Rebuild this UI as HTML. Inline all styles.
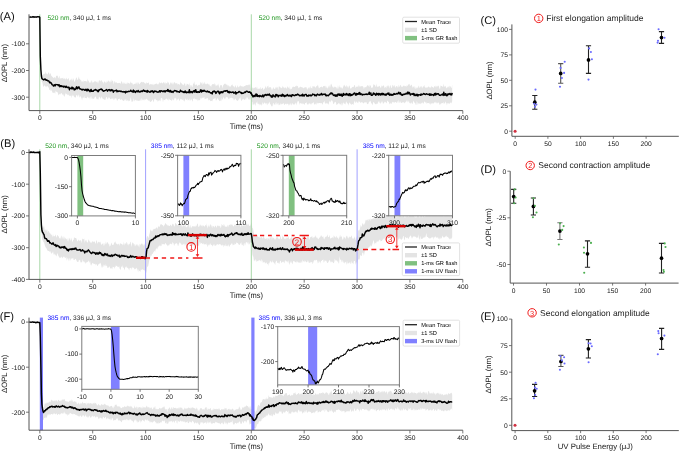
<!DOCTYPE html>
<html><head><meta charset="utf-8"><title>Figure</title>
<style>
html,body{margin:0;padding:0;background:#fff;}
svg{display:block;will-change:transform;}
text{font-family:"Liberation Sans", sans-serif;text-rendering:geometricPrecision;}
</style></head>
<body>
<svg width="685" height="457" viewBox="0 0 685 457">
<rect width="685" height="457" fill="#fff"/>
<path d="M29.2,16.2L29.8,15.6 30.3,16.1 30.8,17.5 31.3,16.8 31.9,16.4 32.4,17.3 32.9,16 33.5,18.8 34,18.1 34.5,15.7 35,16.8 35.6,17 36.1,16.4 36.6,15.9 37.2,17 37.7,15.6 38.2,16.5 38.7,17.2 39.3,17.4 39.8,16.6 40.3,56.8 40.9,68.4 41.4,72.6 41.9,75.5 42.4,75.4 43,73.6 43.5,74.4 44,74.3 44.6,73.5 45.1,74.3 45.6,71.3 46.1,74.4 46.7,73.1 47.2,74.5 47.7,74.2 48.3,72.1 48.8,73.1 49.3,73.5 49.8,75 50.4,72.7 50.9,74.6 51.4,75.9 52,76.3 52.5,77.2 53,77.1 53.5,78.2 54.1,77.5 54.6,76.8 55.1,78.6 55.7,77.4 56.2,75.5 56.7,76.1 57.2,75.4 57.8,75.9 58.3,78.5 58.8,77.4 59.4,75.6 59.9,79.3 60.4,77.9 61,78.8 61.5,78.1 62,78.2 62.5,78.3 63.1,77.6 63.6,79.3 64.1,78.4 64.7,78.6 65.2,78.6 65.7,80 66.2,77.6 66.8,79.1 67.3,79.3 67.8,79.5 68.4,77.7 68.9,79.1 69.4,81.9 69.9,80.1 70.5,79.3 71,80.8 71.5,79.1 72.1,78.3 72.6,81.1 73.1,79.7 73.6,78 74.2,82.1 74.7,81.4 75.2,80.6 75.8,78.8 76.3,77.3 76.8,78.1 77.3,80.1 77.9,79.6 78.4,77.9 78.9,76.2 79.5,79.3 80,79 80.5,80.3 81,79.8 81.6,81.6 82.1,82.1 82.6,80.7 83.2,82.4 83.7,80 84.2,81.3 84.7,80.9 85.3,81.3 85.8,80.7 86.3,81.4 86.9,81.5 87.4,78.2 87.9,82.2 88.4,80.1 89,81.7 89.5,82.8 90,82.8 90.6,82.4 91.1,80.4 91.6,80.6 92.1,83.6 92.7,81.6 93.2,82.3 93.7,82.5 94.3,81.2 94.8,81.5 95.3,81.7 95.8,80.7 96.4,82.6 96.9,81.3 97.4,81.8 98,83.8 98.5,82 99,80.6 99.5,79.9 100.1,81.7 100.6,80.6 101.1,80.7 101.7,79.7 102.2,82 102.7,81.3 103.2,84 103.8,82 104.3,81.5 104.8,81.4 105.4,82.1 105.9,83.4 106.4,82.4 107,80.5 107.5,82 108,81.8 108.5,80.3 109.1,81.1 109.6,81.7 110.1,82.8 110.7,81.1 111.2,79.2 111.7,82.2 112.2,80.7 112.8,80.6 113.3,82.1 113.8,84.6 114.4,81.5 114.9,81.1 115.4,83 115.9,82.3 116.5,82.3 117,83.2 117.5,83.2 118.1,82.8 118.6,83.2 119.1,83 119.6,82.8 120.2,83.3 120.7,84 121.2,81.1 121.8,81.8 122.3,82.6 122.8,84 123.3,83.8 123.9,81.9 124.4,83.1 124.9,84 125.5,84 126,82.3 126.5,83.7 127,84.6 127.6,82.3 128.1,82.9 128.6,82.8 129.2,84 129.7,83.3 130.2,83 130.7,81.3 131.3,83.4 131.8,82.4 132.3,83.1 132.9,84.8 133.4,84.2 133.9,84.6 134.4,83.8 135,83.7 135.5,84.1 136,82 136.6,83.3 137.1,85.1 137.6,82.4 138.1,82.1 138.7,83.5 139.2,83.7 139.7,84.5 140.3,82.4 140.8,82.8 141.3,81.7 141.8,82.1 142.4,82.5 142.9,81.7 143.4,82 144,82.6 144.5,82.7 145,83.5 145.6,83.5 146.1,83.8 146.6,82 147.1,83.3 147.7,83.1 148.2,82.9 148.7,82.1 149.3,84.9 149.8,84.5 150.3,83.7 150.8,84.4 151.4,84 151.9,84.8 152.4,84.8 153,83.5 153.5,84.7 154,85.4 154.5,84 155.1,84 155.6,84 156.1,83.3 156.7,83.8 157.2,84.8 157.7,83.9 158.2,83.3 158.8,84.7 159.3,82.5 159.8,82.2 160.4,83.3 160.9,83.3 161.4,82.4 161.9,82.4 162.5,83.6 163,83.3 163.5,82.1 164.1,82.6 164.6,82.7 165.1,84.7 165.6,82.3 166.2,83.1 166.7,83.5 167.2,83.4 167.8,81.3 168.3,82.8 168.8,82.4 169.3,84.4 169.9,85.1 170.4,82 170.9,83 171.5,83.7 172,81.8 172.5,83.4 173,85 173.6,83 174.1,82.1 174.6,82.2 175.2,84.1 175.7,82.7 176.2,83.3 176.7,82.9 177.3,85.1 177.8,83.1 178.3,84.3 178.9,83.9 179.4,85.1 179.9,84.2 180.4,81.5 181,83.3 181.5,83.2 182,83.7 182.6,84.7 183.1,84.4 183.6,85.4 184.1,83.7 184.7,83.2 185.2,83.7 185.7,86.4 186.3,85.6 186.8,83.6 187.3,84.2 187.9,83.8 188.4,84.5 188.9,85 189.4,82.6 190,87.8 190.5,85.2 191,84.7 191.6,85.8 192.1,87.4 192.6,86.4 193.1,83.8 193.7,83.6 194.2,81.2 194.7,84.2 195.3,85.6 195.8,84.6 196.3,84.6 196.8,84.4 197.4,86 197.9,85.8 198.4,84.9 199,84.7 199.5,85.3 200,84.3 200.5,82.1 201.1,82.5 201.6,84.1 202.1,81.5 202.7,85.1 203.2,84 203.7,83.3 204.2,81.5 204.8,83.8 205.3,83.6 205.8,84.6 206.4,83.6 206.9,84.7 207.4,83.1 207.9,84 208.5,84.8 209,83.6 209.5,84.9 210.1,86.3 210.6,85.5 211.1,87.3 211.6,84.9 212.2,84.6 212.7,84 213.2,83.9 213.8,84.5 214.3,83 214.8,84.9 215.3,84.1 215.9,86.5 216.4,85.7 216.9,85 217.5,84.5 218,86.2 218.5,83.3 219,86.8 219.6,88.4 220.1,84.5 220.6,85.7 221.2,85 221.7,85.3 222.2,86.2 222.7,88.6 223.3,84.5 223.8,84.9 224.3,83.6 224.9,84.3 225.4,84.2 225.9,83.2 226.4,84.9 227,84.4 227.5,84.9 228,86.7 228.6,85 229.1,85.8 229.6,86.8 230.2,86.6 230.7,86.8 231.2,85.5 231.7,84.9 232.3,84.3 232.8,85.8 233.3,86.1 233.9,86.7 234.4,87.8 234.9,86.3 235.4,85.1 236,87.1 236.5,87.6 237,87.8 237.6,84.9 238.1,86.6 238.6,87.4 239.1,86.8 239.7,86.3 240.2,85.1 240.7,86.2 241.3,86.3 241.8,86.2 242.3,86.6 242.8,86.5 243.4,87 243.9,86.1 244.4,86 245,86.3 245.5,85.5 246,85.2 246.5,85 247.1,85.2 247.6,85.1 248.1,85.5 248.7,84.3 249.2,85.4 249.7,84.3 250.2,83.9 250.8,88.6 251.3,87.4 251.8,90.1 252.4,87 252.9,88.2 253.4,88.4 253.9,87.6 254.5,88.1 255,87.5 255.5,87.5 256.1,86.4 256.6,89.1 257.1,86.5 257.6,89.3 258.2,89.2 258.7,88.3 259.2,89.2 259.8,88.2 260.3,86.7 260.8,89.3 261.3,88.9 261.9,88.5 262.4,88.1 262.9,87.5 263.5,90.4 264,89.1 264.5,88.8 265,88 265.6,85.6 266.1,88.4 266.6,87.7 267.2,85.7 267.7,87.1 268.2,85.3 268.7,88.3 269.3,87.1 269.8,87.4 270.3,86.9 270.9,87.6 271.4,90.5 271.9,87.5 272.5,90.4 273,87.5 273.5,87.3 274,88.9 274.6,88.7 275.1,89.1 275.6,87.6 276.2,86.5 276.7,88.6 277.2,86.6 277.7,88 278.3,90.3 278.8,86.2 279.3,86.8 279.9,86.4 280.4,88.1 280.9,86.9 281.4,88.3 282,88.1 282.5,85.4 283,88.1 283.6,86.5 284.1,88.6 284.6,87.7 285.1,87 285.7,87.8 286.2,88.7 286.7,88.3 287.3,85.9 287.8,87.6 288.3,87.2 288.8,87.9 289.4,88.9 289.9,86 290.4,89.8 291,88.8 291.5,89.1 292,88.2 292.5,86.8 293.1,87.1 293.6,86.6 294.1,87.1 294.7,86.9 295.2,86.2 295.7,86.6 296.2,85.3 296.8,86.4 297.3,86.2 297.8,85.7 298.4,88.4 298.9,87.4 299.4,87.5 299.9,87.3 300.5,86.6 301,86.9 301.5,86.9 302.1,87.8 302.6,87 303.1,88.5 303.6,87.9 304.2,87.3 304.7,87.8 305.2,87.4 305.8,86.9 306.3,86.9 306.8,88.5 307.3,90 307.9,87.9 308.4,88.4 308.9,87.1 309.5,87.4 310,89.3 310.5,85.5 311,88 311.6,87.7 312.1,88.9 312.6,86 313.2,86.2 313.7,86.7 314.2,86.1 314.8,86.9 315.3,87.6 315.8,87.6 316.3,86.3 316.9,85.9 317.4,85.7 317.9,84.5 318.5,87.1 319,88.4 319.5,87.8 320,87.5 320.6,87 321.1,86.9 321.6,86.2 322.2,87.5 322.7,87.2 323.2,86.2 323.7,86 324.3,85.7 324.8,86.5 325.3,85.5 325.9,87.9 326.4,87.7 326.9,86 327.4,88.7 328,87.7 328.5,85.2 329,88.6 329.6,84.8 330.1,87.7 330.6,84.9 331.1,83.6 331.7,84.7 332.2,86.2 332.7,87 333.3,88.2 333.8,86.5 334.3,87.6 334.8,86.3 335.4,87.4 335.9,86.4 336.4,87.4 337,88.9 337.5,88.3 338,85 338.5,89.5 339.1,84.8 339.6,87.5 340.1,86.5 340.7,88 341.2,86.9 341.7,88.2 342.2,88.8 342.8,87.9 343.3,84.7 343.8,87.3 344.4,84.4 344.9,85.8 345.4,87.2 345.9,86 346.5,85 347,88 347.5,86.4 348.1,86 348.6,88.5 349.1,86.1 349.6,85.2 350.2,88.5 350.7,88.4 351.2,88.6 351.8,87.5 352.3,86.7 352.8,87.2 353.3,86.8 353.9,86.8 354.4,85.1 354.9,85.1 355.5,88.3 356,87 356.5,86.4 357.1,87 357.6,86.1 358.1,87.8 358.6,84.4 359.2,87.4 359.7,85.2 360.2,87.1 360.8,86 361.3,85.9 361.8,86.6 362.3,86.1 362.9,86.4 363.4,87 363.9,89.2 364.5,87.3 365,86.9 365.5,87.1 366,87.7 366.6,86.3 367.1,85.9 367.6,85 368.2,85.2 368.7,86.7 369.2,84.6 369.7,87.6 370.3,85.6 370.8,85.2 371.3,88.3 371.9,87.6 372.4,87.6 372.9,87.5 373.4,84.4 374,84.3 374.5,85.2 375,85.1 375.6,86.8 376.1,86.9 376.6,83.5 377.1,86.4 377.7,86.9 378.2,86 378.7,87.1 379.3,86.2 379.8,85.4 380.3,88 380.8,87.6 381.4,84.9 381.9,87.8 382.4,86.1 383,85.8 383.5,85.4 384,85.4 384.5,88.4 385.1,86.7 385.6,86.9 386.1,88.5 386.7,86.2 387.2,85.3 387.7,86.5 388.2,86.7 388.8,85.1 389.3,86.4 389.8,88.7 390.4,84.8 390.9,86 391.4,87.9 391.9,88 392.5,84.9 393,84.8 393.5,86.9 394.1,85.2 394.6,85.4 395.1,87.7 395.6,87.3 396.2,85.7 396.7,86.4 397.2,86.1 397.8,87.7 398.3,87.3 398.8,84.4 399.4,86.4 399.9,87.1 400.4,84.8 400.9,84.9 401.5,86.9 402,86.8 402.5,87 403.1,85.7 403.6,85.4 404.1,86.8 404.6,85.5 405.2,86.3 405.7,85.9 406.2,87 406.8,85.3 407.3,86.1 407.8,85.6 408.3,84.6 408.9,84.3 409.4,83.7 409.9,85.7 410.5,85.9 411,84.7 411.5,84.8 412,85.4 412.6,87.8 413.1,87.1 413.6,86 414.2,88.8 414.7,86.1 415.2,87 415.7,89 416.3,88.5 416.8,87.2 417.3,87.2 417.9,88.4 418.4,86.3 418.9,85.6 419.4,87.7 420,87.7 420.5,86.7 421,85.9 421.6,86.6 422.1,88.4 422.6,87.2 423.1,86.5 423.7,86.4 424.2,84.7 424.7,87 425.3,87.2 425.8,87.9 426.3,87.5 426.8,87.5 427.4,87.4 427.9,87.2 428.4,86.6 429,86.5 429.5,87.4 430,87.4 430.5,87.4 431.1,87.6 431.6,85.4 432.1,87.3 432.7,86.7 433.2,88.1 433.7,87.4 434.2,86.2 434.8,86.3 435.3,87.5 435.8,85.4 436.4,86.1 436.9,87.4 437.4,85.6 437.9,86.7 438.5,85.2 439,86.8 439.5,88.8 440.1,88.8 440.6,85.2 441.1,86.3 441.7,85.8 442.2,86.4 442.7,86.7 443.2,86.8 443.8,83.6 444.3,87.3 444.8,86.3 445.4,85.8 445.9,87.3 446.4,87.8 446.9,88.5 447.5,87 448,86.6 448.5,86.5 449.1,88.2 449.6,85.5 450.1,86.5 450.6,86.2 451.2,88.3 451.7,87.6 452.2,84.6 452.2,101.3 451.7,102.6 451.2,103.4 450.6,102.3 450.1,102.9 449.6,103.4 449.1,104 448.5,103.2 448,103.2 447.5,103.1 446.9,105.4 446.4,103.3 445.9,102.8 445.4,101.2 444.8,103.8 444.3,103.5 443.8,101.8 443.2,104.1 442.7,103 442.2,102.9 441.7,103.2 441.1,103.5 440.6,103.7 440.1,104.8 439.5,104.8 439,103.1 438.5,102.4 437.9,102.5 437.4,103.7 436.9,101.9 436.4,103.8 435.8,101.6 435.3,103.1 434.8,102.8 434.2,102 433.7,104.1 433.2,102.9 432.7,102.8 432.1,104 431.6,103 431.1,104 430.5,104.7 430,102.2 429.5,104.5 429,102.7 428.4,103.3 427.9,103 427.4,103.1 426.8,104 426.3,102.3 425.8,102.5 425.3,102.4 424.7,101.8 424.2,101.3 423.7,103.5 423.1,103.6 422.6,102 422.1,103.5 421.6,103.5 421,102.6 420.5,104.1 420,104.3 419.4,103.6 418.9,102.8 418.4,103.8 417.9,105.1 417.3,102.2 416.8,101.1 416.3,105.1 415.7,104.7 415.2,103 414.7,102.6 414.2,102.7 413.6,100.6 413.1,101.7 412.6,103.8 412,103.9 411.5,102.6 411,102.6 410.5,103.8 409.9,103.2 409.4,102.9 408.9,100.3 408.3,102.5 407.8,100 407.3,102.4 406.8,101.8 406.2,100 405.7,102.7 405.2,102.1 404.6,103.6 404.1,102.5 403.6,102 403.1,102.7 402.5,102.2 402,102.5 401.5,103 400.9,102.9 400.4,100.9 399.9,103 399.4,102.2 398.8,99.7 398.3,102.8 397.8,102.7 397.2,100.8 396.7,103.3 396.2,102.6 395.6,101.8 395.1,102.3 394.6,102.4 394.1,102.5 393.5,102.6 393,101.5 392.5,102.2 391.9,102.6 391.4,104 390.9,103.9 390.4,102.6 389.8,104.4 389.3,103.4 388.8,101.5 388.2,101.9 387.7,100.7 387.2,100.8 386.7,103 386.1,103.2 385.6,101.9 385.1,101.8 384.5,101.8 384,103.5 383.5,103.1 383,104.3 382.4,100.8 381.9,103.2 381.4,101.1 380.8,103.5 380.3,103.7 379.8,101.1 379.3,103.2 378.7,102 378.2,100.9 377.7,103.4 377.1,103.9 376.6,103.6 376.1,104.6 375.6,103.9 375,104.2 374.5,102.9 374,102.6 373.4,101.8 372.9,103.4 372.4,105.5 371.9,103.5 371.3,103.5 370.8,102 370.3,100.4 369.7,102.3 369.2,100.9 368.7,102.8 368.2,104.1 367.6,103.9 367.1,104.2 366.6,102.6 366,102.1 365.5,102.4 365,102.4 364.5,102.3 363.9,102.9 363.4,103.6 362.9,103.1 362.3,102.3 361.8,102.1 361.3,102.5 360.8,102.5 360.2,102.9 359.7,101 359.2,102.3 358.6,100.9 358.1,103.5 357.6,102.1 357.1,103.3 356.5,101 356,102.6 355.5,103 354.9,100.6 354.4,101.7 353.9,103.1 353.3,105.2 352.8,103.9 352.3,103.9 351.8,105 351.2,104.2 350.7,103.3 350.2,104.4 349.6,102.3 349.1,103.1 348.6,105.7 348.1,103.7 347.5,103.3 347,103.5 346.5,101.2 345.9,102.3 345.4,104.4 344.9,104.1 344.4,103.5 343.8,103.5 343.3,102.2 342.8,103.2 342.2,105.4 341.7,105.4 341.2,102.5 340.7,104.7 340.1,104.2 339.6,104.3 339.1,102.7 338.5,103.1 338,104.4 337.5,103.9 337,104.6 336.4,105.2 335.9,101.5 335.4,102.6 334.8,101.8 334.3,103.3 333.8,103.7 333.3,104.2 332.7,101.6 332.2,100.6 331.7,100.7 331.1,99.9 330.6,101.8 330.1,102.4 329.6,100.4 329,102.7 328.5,104.7 328,104.1 327.4,103.5 326.9,102.7 326.4,103.5 325.9,104.1 325.3,103.2 324.8,102.7 324.3,100.4 323.7,102.8 323.2,102.1 322.7,104.3 322.2,104.5 321.6,102.9 321.1,103 320.6,103.3 320,103.1 319.5,103.1 319,102.9 318.5,103.2 317.9,103.6 317.4,103.2 316.9,102.2 316.3,104.7 315.8,104.5 315.3,103.2 314.8,104.4 314.2,104.4 313.7,102.7 313.2,102 312.6,103.4 312.1,103 311.6,103.5 311,105 310.5,103.8 310,103.5 309.5,103.5 308.9,103.2 308.4,104.5 307.9,104.7 307.3,104.3 306.8,103.5 306.3,102.1 305.8,103 305.2,103.1 304.7,104.6 304.2,104.7 303.6,103.7 303.1,103.5 302.6,103.2 302.1,104.5 301.5,103.5 301,103.1 300.5,103.4 299.9,102.8 299.4,105.1 298.9,101.8 298.4,101.1 297.8,101.2 297.3,101.7 296.8,105.6 296.2,103 295.7,102.6 295.2,103.7 294.7,105.1 294.1,103.5 293.6,104.2 293.1,105.1 292.5,103.2 292,103.1 291.5,105.1 291,105.6 290.4,103.2 289.9,103.4 289.4,105 288.8,105.8 288.3,104 287.8,103.5 287.3,104.1 286.7,103.6 286.2,104.8 285.7,103.8 285.1,103.8 284.6,104.9 284.1,104.8 283.6,102.8 283,104 282.5,103.6 282,104.6 281.4,104.3 280.9,102.9 280.4,104.2 279.9,105.3 279.3,104.8 278.8,102.5 278.3,105.4 277.7,104.3 277.2,103.1 276.7,105.1 276.2,101.9 275.6,103.1 275.1,105.2 274.6,104.1 274,105.1 273.5,103 273,103.1 272.5,106.6 271.9,106.1 271.4,106.7 270.9,104.3 270.3,104.7 269.8,102.9 269.3,101.6 268.7,103.6 268.2,103.7 267.7,105.5 267.2,103.3 266.6,103 266.1,104.7 265.6,103.4 265,103 264.5,102.3 264,103.6 263.5,104.6 262.9,102.2 262.4,103 261.9,106 261.3,104.3 260.8,104.5 260.3,104.8 259.8,103.6 259.2,105.6 258.7,103.9 258.2,103.5 257.6,104.1 257.1,101.1 256.6,103.6 256.1,102.1 255.5,105.4 255,105.6 254.5,103.5 253.9,103.8 253.4,104.7 252.9,105.5 252.4,101.7 251.8,101.8 251.3,99.5 250.8,99.8 250.2,98 249.7,98.8 249.2,100.2 248.7,99.4 248.1,98.8 247.6,97.9 247.1,96.7 246.5,97.8 246,100.2 245.5,98 245,100 244.4,100 243.9,98.4 243.4,99.5 242.8,99.3 242.3,99.4 241.8,100.3 241.3,101.3 240.7,99 240.2,97.1 239.7,99.1 239.1,97.9 238.6,99.7 238.1,100.6 237.6,100.9 237,100.5 236.5,100.2 236,99.7 235.4,98.6 234.9,98.5 234.4,100.1 233.9,100.5 233.3,98.2 232.8,98.6 232.3,98.1 231.7,97.9 231.2,97.6 230.7,97.8 230.2,98.2 229.6,99 229.1,97.2 228.6,99.6 228,98.4 227.5,96.8 227,97.5 226.4,96.9 225.9,96.6 225.4,99.3 224.9,97.4 224.3,99.4 223.8,98 223.3,96.6 222.7,99.8 222.2,98.9 221.7,101.4 221.2,97.6 220.6,101 220.1,100.7 219.6,101.3 219,100.3 218.5,99.7 218,98.6 217.5,98.3 216.9,98.9 216.4,100.3 215.9,100.7 215.3,97.3 214.8,98.9 214.3,97.9 213.8,99 213.2,98.8 212.7,99.9 212.2,101.5 211.6,100.7 211.1,101.1 210.6,101.2 210.1,100.5 209.5,99.9 209,99.6 208.5,100.8 207.9,97.9 207.4,98.6 206.9,97.7 206.4,98.7 205.8,98.9 205.3,98.5 204.8,99.4 204.2,96.7 203.7,97.7 203.2,97.5 202.7,98.2 202.1,97.3 201.6,99.3 201.1,97.6 200.5,97.9 200,100.6 199.5,99.8 199,100.5 198.4,99.6 197.9,101.5 197.4,99.6 196.8,99.1 196.3,100.1 195.8,99.1 195.3,99.2 194.7,99.6 194.2,97.4 193.7,98.8 193.1,99 192.6,101.7 192.1,100.8 191.6,98.9 191,99.9 190.5,99.4 190,101.6 189.4,98.3 188.9,100.4 188.4,99.6 187.9,100.7 187.3,98.5 186.8,99.5 186.3,100 185.7,99.5 185.2,97.9 184.7,102 184.1,100.2 183.6,101 183.1,99.1 182.6,100.2 182,99.2 181.5,99.6 181,98.8 180.4,99.1 179.9,100.2 179.4,100.9 178.9,99.8 178.3,98.2 177.8,99.7 177.3,99.2 176.7,100.9 176.2,98.4 175.7,98.7 175.2,97.6 174.6,98 174.1,99.7 173.6,99.8 173,100.7 172.5,98.6 172,100.4 171.5,100.7 170.9,100 170.4,99.9 169.9,100 169.3,98.9 168.8,98.3 168.3,101 167.8,99 167.2,99.9 166.7,97.9 166.2,99.3 165.6,98.8 165.1,100.2 164.6,99.9 164.1,99.7 163.5,99.6 163,102.4 162.5,99.2 161.9,97.8 161.4,98.3 160.9,98 160.4,101.3 159.8,100.9 159.3,99.7 158.8,100.3 158.2,101.4 157.7,99.8 157.2,101.9 156.7,100 156.1,100 155.6,98.3 155.1,100.1 154.5,98.6 154,100.8 153.5,102.5 153,100.2 152.4,99.2 151.9,101.1 151.4,101.3 150.8,101.7 150.3,102 149.8,101.4 149.3,100.3 148.7,100.8 148.2,100.5 147.7,99.3 147.1,100.3 146.6,99 146.1,98.4 145.6,100.3 145,98.7 144.5,99.8 144,100.7 143.4,99.3 142.9,100.4 142.4,99.8 141.8,98.1 141.3,100.5 140.8,101.1 140.3,99.1 139.7,100.4 139.2,101.1 138.7,101.1 138.1,100.6 137.6,101 137.1,100.1 136.6,100.9 136,99.6 135.5,100.6 135,99.3 134.4,101.1 133.9,101.4 133.4,98 132.9,101.7 132.3,101.2 131.8,102.2 131.3,99.9 130.7,97 130.2,99.9 129.7,101 129.2,100.5 128.6,101.4 128.1,100.1 127.6,100.4 127,100.4 126.5,101.2 126,98.4 125.5,99.8 124.9,100.9 124.4,99.3 123.9,100.8 123.3,101 122.8,100.2 122.3,100.2 121.8,98.7 121.2,99.8 120.7,99.8 120.2,99.7 119.6,98.5 119.1,98.7 118.6,98.9 118.1,98.9 117.5,100.5 117,101 116.5,98.5 115.9,98.4 115.4,98.5 114.9,97.7 114.4,100.1 113.8,97.9 113.3,100.4 112.8,98.1 112.2,98.9 111.7,98.9 111.2,98.3 110.7,99.3 110.1,99 109.6,97.8 109.1,97.6 108.5,97.3 108,99.2 107.5,99.3 107,97.4 106.4,96.8 105.9,98 105.4,99.7 104.8,99.9 104.3,99.6 103.8,98.7 103.2,99.5 102.7,98.8 102.2,97.8 101.7,96.2 101.1,97.9 100.6,99 100.1,97.5 99.5,97.2 99,96.3 98.5,99.6 98,99.6 97.4,99.1 96.9,99.4 96.4,98.4 95.8,96.8 95.3,96.6 94.8,97 94.3,98.5 93.7,98.6 93.2,99.3 92.7,98 92.1,99.4 91.6,98.6 91.1,95.9 90.6,97 90,99.9 89.5,96.9 89,98.4 88.4,97.4 87.9,97.2 87.4,96.3 86.9,98.6 86.3,97.9 85.8,97.9 85.3,98 84.7,98.3 84.2,96 83.7,97.4 83.2,97.9 82.6,97.4 82.1,100.5 81.6,98.5 81,97 80.5,95.8 80,97.4 79.5,97.3 78.9,94.3 78.4,95.2 77.9,97.3 77.3,95.5 76.8,95 76.3,95.2 75.8,97.3 75.2,97.8 74.7,96.6 74.2,97.7 73.6,95.6 73.1,95.5 72.6,96.3 72.1,94.2 71.5,98.5 71,95 70.5,96.2 69.9,95.8 69.4,96.3 68.9,94.3 68.4,95.2 67.8,95.3 67.3,94.5 66.8,93.6 66.2,94.4 65.7,94.6 65.2,92.6 64.7,96.8 64.1,96.2 63.6,95.5 63.1,93.9 62.5,95 62,94.1 61.5,93.1 61,93.1 60.4,94.2 59.9,94.8 59.4,93.8 58.8,94.5 58.3,95.4 57.8,92.8 57.2,92.1 56.7,92.1 56.2,91.5 55.7,90.6 55.1,94.1 54.6,92.6 54.1,92.7 53.5,93.3 53,92.1 52.5,93.3 52,91 51.4,90.4 50.9,88.7 50.4,91.1 49.8,89.9 49.3,89.9 48.8,87.7 48.3,87.2 47.7,86 47.2,86.4 46.7,85.9 46.1,87.4 45.6,86.5 45.1,86 44.6,85.3 44,86.1 43.5,86.9 43,86 42.4,82.2 41.9,82.2 41.4,79.6 40.9,74.1 40.3,57.8 39.8,18.2 39.3,16 38.7,18.9 38.2,16.1 37.7,16.7 37.2,16.8 36.6,17.7 36.1,17 35.6,17 35,17.8 34.5,18 34,17.1 33.5,16.7 32.9,17.5 32.4,15.3 31.9,18.2 31.3,17.8 30.8,17.5 30.3,17.5 29.8,18.7 29.2,16.7Z" fill="#e4e4e4"/>
<path d="M39.8,14.3V110.6" stroke="#a8d8a8" stroke-width="1"/>
<path d="M251.3,14.3V110.6" stroke="#a8d8a8" stroke-width="1"/>
<path d="M29.2,17.2L29.8,17.1 30.3,16.9 30.8,17.2 31.3,17.1 31.9,17.1 32.4,16.8 32.9,16.9 33.5,16.8 34,17.3 34.5,16.9 35,17.1 35.6,16.9 36.1,17 36.6,17.2 37.2,16.9 37.7,16.7 38.2,16.8 38.7,16.9 39.3,16.8 39.8,17.2 40.3,56.3 40.9,69.8 41.4,76 41.9,78.7 42.4,79 43,79.3 43.5,79.9 44,79.8 44.6,79.2 45.1,78.9 45.6,79.6 46.1,80.3 46.7,79.9 47.2,80.3 47.7,80.9 48.3,80.8 48.8,81 49.3,82 49.8,82.8 50.4,82.3 50.9,83 51.4,83 52,84.7 52.5,84.9 53,85.2 53.5,86.1 54.1,85.3 54.6,84.7 55.1,85.9 55.7,84.4 56.2,84.6 56.7,84.6 57.2,84.6 57.8,84.6 58.3,85.8 58.8,84.8 59.4,84.9 59.9,86.8 60.4,85.7 61,86.3 61.5,85.8 62,86.7 62.5,86.3 63.1,86.2 63.6,87.1 64.1,86.3 64.7,86.7 65.2,86.4 65.7,87.4 66.2,86.2 66.8,86.9 67.3,87.5 67.8,87.5 68.4,87.2 68.9,87.3 69.4,89.7 69.9,88.1 70.5,88.2 71,88.2 71.5,88.8 72.1,87.1 72.6,88.7 73.1,88 73.6,88 74.2,89.9 74.7,89.1 75.2,89.6 75.8,88.8 76.3,87.3 76.8,86.7 77.3,88.8 77.9,88.3 78.4,87.5 78.9,86.8 79.5,88.1 80,89.1 80.5,88.9 81,89.1 81.6,89.7 82.1,90 82.6,89.3 83.2,89.6 83.7,89.4 84.2,89.7 84.7,90.2 85.3,90.2 85.8,89.2 86.3,90 86.9,91 87.4,89.3 87.9,90.4 88.4,89.4 89,90.7 89.5,90.8 90,91.7 90.6,90.4 91.1,89.4 91.6,91.3 92.1,91.3 92.7,90.9 93.2,91.3 93.7,90.5 94.3,90.2 94.8,90.1 95.3,89.4 95.8,90 96.4,89.9 96.9,90.7 97.4,90.4 98,91.8 98.5,91.2 99,89.7 99.5,90.1 100.1,89.4 100.6,89.3 101.1,89 101.7,89.7 102.2,89.5 102.7,90.5 103.2,91.1 103.8,91.2 104.3,90.6 104.8,90.6 105.4,90.3 105.9,90 106.4,89.6 107,90 107.5,91.2 108,90.1 108.5,90 109.1,89.6 109.6,89.9 110.1,90.8 110.7,90.7 111.2,89.6 111.7,90.5 112.2,89.9 112.8,90.1 113.3,92.2 113.8,91.2 114.4,90.9 114.9,90.8 115.4,90.5 115.9,90.5 116.5,90.1 117,91.7 117.5,90.9 118.1,91.4 118.6,91 119.1,91.3 119.6,91 120.2,91 120.7,91.5 121.2,91.3 121.8,91.5 122.3,91.8 122.8,91.7 123.3,92.1 123.9,91.5 124.4,91.9 124.9,91.8 125.5,92.9 126,91.3 126.5,92 127,92 127.6,91.6 128.1,91.7 128.6,91.3 129.2,91.4 129.7,91.5 130.2,91.2 130.7,90.2 131.3,91 131.8,91.6 132.3,91.2 132.9,92.1 133.4,90.1 133.9,91.9 134.4,91 135,91.7 135.5,92.5 136,91.3 136.6,91 137.1,91.6 137.6,91.7 138.1,90.4 138.7,91.8 139.2,91.9 139.7,92 140.3,91.3 140.8,91.8 141.3,91.1 141.8,90.9 142.4,91.4 142.9,90.9 143.4,90.1 144,90.4 144.5,91.3 145,90.8 145.6,91.4 146.1,91.2 146.6,90.9 147.1,92.3 147.7,90.5 148.2,91.5 148.7,91.4 149.3,91.9 149.8,92.2 150.3,92.1 150.8,91.2 151.4,90.9 151.9,91.7 152.4,90.8 153,91.5 153.5,92.6 154,91.6 154.5,91 155.1,91.5 155.6,91.1 156.1,91.1 156.7,91.8 157.2,92.2 157.7,92 158.2,91.9 158.8,92.1 159.3,91 159.8,90.7 160.4,91.9 160.9,90.8 161.4,90.8 161.9,91 162.5,91.3 163,91.8 163.5,91.4 164.1,90.7 164.6,91.3 165.1,92 165.6,90.9 166.2,90.7 166.7,90.7 167.2,91.1 167.8,89.5 168.3,91.4 168.8,90.4 169.3,90.9 169.9,92 170.4,90.5 170.9,91.3 171.5,92.2 172,91.3 172.5,91.7 173,92.4 173.6,91.4 174.1,90.9 174.6,90.5 175.2,90.7 175.7,90.9 176.2,90.8 176.7,91.8 177.3,91.2 177.8,91.8 178.3,91.7 178.9,91.7 179.4,92.3 179.9,91.8 180.4,90.3 181,91.1 181.5,91.6 182,91.2 182.6,91.9 183.1,91.7 183.6,92.4 184.1,91.6 184.7,92.5 185.2,90.9 185.7,92.1 186.3,92.8 186.8,91.9 187.3,92.4 187.9,92.2 188.4,92.6 188.9,91.7 189.4,89.8 190,92.8 190.5,91.7 191,91.9 191.6,91.6 192.1,92.8 192.6,92.5 193.1,91.2 193.7,91.5 194.2,90.5 194.7,92 195.3,91.6 195.8,89.8 196.3,92.2 196.8,92.2 197.4,91.7 197.9,92.4 198.4,91.7 199,92 199.5,92.3 200,91.8 200.5,90 201.1,89.9 201.6,92 202.1,90.4 202.7,91.3 203.2,90.4 203.7,91.2 204.2,90.3 204.8,91.1 205.3,91.2 205.8,91.4 206.4,91.8 206.9,91.7 207.4,91 207.9,91.6 208.5,92.1 209,91.5 209.5,92.1 210.1,92.5 210.6,93.1 211.1,92.8 211.6,92.9 212.2,93.9 212.7,91.6 213.2,91.3 213.8,91.8 214.3,91 214.8,91.7 215.3,91.8 215.9,93.4 216.4,92.6 216.9,91.9 217.5,91.3 218,91.1 218.5,91.3 219,92.9 219.6,93.7 220.1,92.1 220.6,92.8 221.2,91.7 221.7,92.5 222.2,92 222.7,92.7 223.3,91.2 223.8,91.5 224.3,91.2 224.9,90.8 225.4,91.3 225.9,90.7 226.4,90.9 227,90.6 227.5,91.1 228,92.4 228.6,92.6 229.1,91.4 229.6,92.7 230.2,92 230.7,92.2 231.2,92.4 231.7,92.5 232.3,92 232.8,92.3 233.3,92 233.9,93.3 234.4,92.9 234.9,92.6 235.4,91.8 236,94 236.5,92.7 237,93 237.6,92.6 238.1,92.6 238.6,92.1 239.1,91.4 239.7,92 240.2,92.1 240.7,92.4 241.3,93.5 241.8,92.6 242.3,93.2 242.8,93.5 243.4,93.1 243.9,92.7 244.4,92.1 245,92.5 245.5,92.4 246,91.4 246.5,91.3 247.1,91.2 247.6,91.6 248.1,92 248.7,92.3 249.2,92.3 249.7,91.7 250.2,92.3 250.8,93.5 251.3,92.9 251.8,95.1 252.4,94.9 252.9,96.8 253.4,96.8 253.9,95.7 254.5,95.4 255,96.6 255.5,95.2 256.1,93.9 256.6,96 257.1,94.4 257.6,96.4 258.2,96 258.7,95.7 259.2,96.8 259.8,95.4 260.3,95.8 260.8,96.3 261.3,96.1 261.9,96.8 262.4,95.7 262.9,94.9 263.5,96.8 264,95.9 264.5,95.4 265,94.6 265.6,94.5 266.1,95.5 266.6,95.2 267.2,94.3 267.7,95 268.2,95.2 268.7,94.5 269.3,94 269.8,95.2 270.3,95.8 270.9,95.4 271.4,97 271.9,96.2 272.5,97 273,94.8 273.5,95.7 274,96.1 274.6,96.1 275.1,97 275.6,94.8 276.2,94.4 276.7,95.8 277.2,94.9 277.7,95.1 278.3,96.8 278.8,95.5 279.3,95.3 279.9,95.6 280.4,95.7 280.9,95.1 281.4,96.2 282,94.9 282.5,94.3 283,96.1 283.6,94.9 284.1,95.7 284.6,96.6 285.1,95.5 285.7,96.1 286.2,95.3 286.7,95.8 287.3,94.5 287.8,95.6 288.3,95.3 288.8,96.1 289.4,95.9 289.9,95.1 290.4,95.6 291,96.3 291.5,96.6 292,94.7 292.5,94.7 293.1,95.4 293.6,95 294.1,95.3 294.7,95.7 295.2,95.4 295.7,94.8 296.2,94.8 296.8,95.2 297.3,94.4 297.8,94.1 298.4,94.8 298.9,94.7 299.4,95.7 299.9,95.7 300.5,95.5 301,95.7 301.5,95 302.1,95.7 302.6,94.3 303.1,95.9 303.6,95.2 304.2,95.9 304.7,94.8 305.2,94.5 305.8,94.6 306.3,94.4 306.8,96 307.3,96 307.9,95.7 308.4,96.1 308.9,94.9 309.5,95.5 310,95.5 310.5,95.1 311,95.9 311.6,95.4 312.1,95.2 312.6,94.1 313.2,94.4 313.7,94.5 314.2,94.4 314.8,95.7 315.3,95.1 315.8,95 316.3,95.8 316.9,94.7 317.4,94.1 317.9,94.5 318.5,94.8 319,95 319.5,95.2 320,94.2 320.6,94.8 321.1,94.5 321.6,93.4 322.2,94.9 322.7,94.8 323.2,94.4 323.7,94.1 324.3,94.1 324.8,94.5 325.3,94.1 325.9,95.7 326.4,95.7 326.9,95.1 327.4,95.3 328,95.8 328.5,95.6 329,94.9 329.6,94.1 330.1,94.2 330.6,93.4 331.1,92.8 331.7,93.8 332.2,93.2 332.7,94 333.3,95.3 333.8,95.3 334.3,95.6 334.8,94.8 335.4,96.2 335.9,94.9 336.4,95.2 337,96.3 337.5,94.5 338,94.1 338.5,95 339.1,93.9 339.6,95.3 340.1,94.4 340.7,95.4 341.2,94.1 341.7,95.6 342.2,96.2 342.8,94.7 343.3,93.4 343.8,95.2 344.4,94.2 344.9,94.5 345.4,94.9 345.9,94.1 346.5,93.5 347,95 347.5,94.2 348.1,94.8 348.6,95.4 349.1,93.6 349.6,93.6 350.2,95.7 350.7,94.1 351.2,95.1 351.8,95.4 352.3,94.4 352.8,94.7 353.3,94.3 353.9,93.3 354.4,93 354.9,93.2 355.5,95 356,95.2 356.5,93.4 357.1,94.5 357.6,93.8 358.1,94.3 358.6,93.1 359.2,94.1 359.7,92.5 360.2,94.5 360.8,93.9 361.3,94 361.8,94 362.3,95.1 362.9,94.5 363.4,94.4 363.9,94.4 364.5,94.5 365,94.4 365.5,94.2 366,94.5 366.6,93.9 367.1,94.1 367.6,94.5 368.2,94.1 368.7,94 369.2,92.3 369.7,94.2 370.3,93.7 370.8,92.9 371.3,95.3 371.9,95.2 372.4,95.2 372.9,94.5 373.4,92.9 374,94 374.5,93.6 375,94.1 375.6,95.3 376.1,95.1 376.6,93.3 377.1,94.1 377.7,94.6 378.2,93.4 378.7,95 379.3,93.9 379.8,93.6 380.3,94.9 380.8,95.1 381.4,93.5 381.9,94.5 382.4,93.3 383,94.8 383.5,93.6 384,94.1 384.5,94.7 385.1,95.1 385.6,94.2 386.1,95.2 386.7,93.9 387.2,93.8 387.7,93.3 388.2,94.4 388.8,93 389.3,94.6 389.8,95.3 390.4,94.3 390.9,94.1 391.4,95.1 391.9,95.2 392.5,94.5 393,94.9 393.5,94.4 394.1,93.5 394.6,94.3 395.1,94.3 395.6,94 396.2,94 396.7,93.5 397.2,93.4 397.8,93.9 398.3,93.6 398.8,92.2 399.4,93.5 399.9,93.9 400.4,92.7 400.9,94.4 401.5,95 402,94.3 402.5,95.3 403.1,94.7 403.6,94.2 404.1,94.1 404.6,94.4 405.2,94 405.7,94.1 406.2,93.2 406.8,93.8 407.3,93.8 407.8,92.1 408.3,93.8 408.9,92.3 409.4,92.6 409.9,94.1 410.5,95 411,93.9 411.5,93.9 412,93.9 412.6,94.3 413.1,93.5 413.6,93.7 414.2,95.5 414.7,94 415.2,95 415.7,95.6 416.3,95.5 416.8,94.2 417.3,94.4 417.9,96.1 418.4,94.7 418.9,94.8 419.4,94.9 420,94.8 420.5,95.3 421,94 421.6,94.9 422.1,94.4 422.6,94.4 423.1,94.2 423.7,93.5 424.2,93.6 424.7,94.2 425.3,94.4 425.8,94.4 426.3,93.7 426.8,94.1 427.4,94.1 427.9,94.5 428.4,94.4 429,94.1 429.5,95.3 430,93.7 430.5,95.1 431.1,95.3 431.6,94.2 432.1,94.6 432.7,94.8 433.2,94.9 433.7,95.4 434.2,94.1 434.8,93.5 435.3,95 435.8,93.3 436.4,94.6 436.9,94.4 437.4,93.8 437.9,93.9 438.5,93.7 439,94.7 439.5,95.2 440.1,95.4 440.6,95.1 441.1,94.9 441.7,94.7 442.2,94.1 442.7,94.5 443.2,95.4 443.8,92.3 444.3,94.8 444.8,95.2 445.4,93.7 445.9,93.8 446.4,95.6 446.9,95.7 447.5,95 448,93.7 448.5,94.4 449.1,94.4 449.6,93.7 450.1,93.5 450.6,94.8 451.2,94.3 451.7,94.9 452.2,92.9" fill="none" stroke="#000" stroke-width="1.45" stroke-linejoin="round"/>
<path d="M29,14.3V110.6H462.8" fill="none" stroke="#555" stroke-width="1"/>
<path d="M26,43.8H29" stroke="#555" stroke-width="0.8"/>
<text x="25" y="46" font-size="6.7" text-anchor="end" fill="#151515" >-100</text>
<path d="M26,70.5H29" stroke="#555" stroke-width="0.8"/>
<text x="25" y="72.8" font-size="6.7" text-anchor="end" fill="#151515" >-200</text>
<path d="M26,97.2H29" stroke="#555" stroke-width="0.8"/>
<text x="25" y="99.5" font-size="6.7" text-anchor="end" fill="#151515" >-300</text>
<path d="M39.8,110.6V113.8" stroke="#555" stroke-width="0.8"/>
<text x="39.8" y="119.8" font-size="6.7" text-anchor="middle" fill="#151515" >0</text>
<path d="M92.7,110.6V113.8" stroke="#555" stroke-width="0.8"/>
<text x="92.7" y="119.8" font-size="6.7" text-anchor="middle" fill="#151515" >50</text>
<path d="M145.6,110.6V113.8" stroke="#555" stroke-width="0.8"/>
<text x="145.6" y="119.8" font-size="6.7" text-anchor="middle" fill="#151515" >100</text>
<path d="M198.4,110.6V113.8" stroke="#555" stroke-width="0.8"/>
<text x="198.4" y="119.8" font-size="6.7" text-anchor="middle" fill="#151515" >150</text>
<path d="M251.3,110.6V113.8" stroke="#555" stroke-width="0.8"/>
<text x="251.3" y="119.8" font-size="6.7" text-anchor="middle" fill="#151515" >200</text>
<path d="M304.2,110.6V113.8" stroke="#555" stroke-width="0.8"/>
<text x="304.2" y="119.8" font-size="6.7" text-anchor="middle" fill="#151515" >250</text>
<path d="M357.1,110.6V113.8" stroke="#555" stroke-width="0.8"/>
<text x="357.1" y="119.8" font-size="6.7" text-anchor="middle" fill="#151515" >300</text>
<path d="M409.9,110.6V113.8" stroke="#555" stroke-width="0.8"/>
<text x="409.9" y="119.8" font-size="6.7" text-anchor="middle" fill="#151515" >350</text>
<path d="M462.8,110.6V113.8" stroke="#555" stroke-width="0.8"/>
<text x="462.8" y="119.8" font-size="6.7" text-anchor="middle" fill="#151515" >400</text>
<text x="246.4" y="129.2" font-size="8.1" text-anchor="middle" fill="#151515" textLength="33.4" lengthAdjust="spacingAndGlyphs">Time (ms)</text>
<text x="47.4" y="20" font-size="6.6" fill="#222"><tspan fill="#1e961e">520 nm</tspan>, 340 μJ, 1 ms</text>
<text x="258.7" y="20" font-size="6.6" fill="#222"><tspan fill="#1e961e">520 nm</tspan>, 340 μJ, 1 ms</text>
<path d="M29.2,151.3L29.8,151.3 30.3,150.9 30.8,153.8 31.3,152.2 31.9,152.1 32.4,151.4 32.9,151.5 33.5,152.3 34,153.7 34.5,151.8 35,151.3 35.6,151.7 36.1,152.9 36.6,152.8 37.2,152.8 37.7,153.2 38.2,151.6 38.7,153 39.3,151.1 39.8,150 40.3,170.9 40.9,213.3 41.4,220.7 41.9,224.8 42.4,227.8 43,227.6 43.5,227.6 44,225.1 44.6,229.4 45.1,231 45.6,229.6 46.1,229.3 46.7,231.1 47.2,229.3 47.7,233 48.3,231.2 48.8,230.7 49.3,232.6 49.8,233.2 50.4,233.5 50.9,234.4 51.4,234.5 52,235.4 52.5,237.4 53,233.7 53.5,236.4 54.1,236 54.6,236.5 55.1,236.1 55.7,234.2 56.2,236.8 56.7,237.7 57.2,234.7 57.8,235.5 58.3,236.3 58.8,236.4 59.4,238.7 59.9,237.8 60.4,238.9 61,236.1 61.5,235.6 62,239.6 62.5,237.4 63.1,235.8 63.6,238.2 64.1,239.9 64.7,236.2 65.2,239.2 65.7,237.4 66.2,238.7 66.8,239.2 67.3,241.6 67.8,237.7 68.4,241.9 68.9,237.5 69.4,238.3 69.9,239.2 70.5,240.9 71,237.6 71.5,239 72.1,240.7 72.6,242.4 73.1,239.9 73.6,239.9 74.2,236.8 74.7,238.3 75.2,237.9 75.8,238 76.3,238.2 76.8,239.8 77.3,241.1 77.9,241.6 78.4,239.3 78.9,240.3 79.5,241.2 80,239.8 80.5,240.8 81,240.1 81.6,243.2 82.1,239.5 82.6,238.4 83.2,238.9 83.7,239.4 84.2,238.2 84.7,242.9 85.3,241 85.8,239.9 86.3,240.1 86.9,242.2 87.4,242.4 87.9,242.2 88.4,239.4 89,239.8 89.5,241.8 90,241.3 90.6,243.2 91.1,241.6 91.6,243.5 92.1,241.6 92.7,241.2 93.2,242.3 93.7,241.6 94.3,241.7 94.8,241.2 95.3,244 95.8,242.9 96.4,240.1 96.9,241 97.4,244.1 98,242.3 98.5,241.4 99,242.8 99.5,242.3 100.1,241.5 100.6,242.4 101.1,244.4 101.7,244.7 102.2,243.9 102.7,243.6 103.2,243 103.8,246.1 104.3,245.2 104.8,243 105.4,244.5 105.9,241.3 106.4,244.6 107,241.9 107.5,242.4 108,242.4 108.5,244.4 109.1,244 109.6,246.8 110.1,246 110.7,245.2 111.2,242.5 111.7,243.6 112.2,244.7 112.8,245 113.3,245.1 113.8,243.9 114.4,241.8 114.9,243 115.4,241 115.9,243.5 116.5,243.7 117,243.7 117.5,244.4 118.1,244.6 118.6,243.8 119.1,243.5 119.6,245.9 120.2,243.3 120.7,243.4 121.2,243.7 121.8,244 122.3,245.4 122.8,243.8 123.3,245.1 123.9,241.5 124.4,245.7 124.9,243.2 125.5,243.3 126,244.6 126.5,241.7 127,242.4 127.6,244.2 128.1,245.7 128.6,244.3 129.2,243.8 129.7,244.6 130.2,241.6 130.7,242.3 131.3,247 131.8,244.5 132.3,241.9 132.9,243.6 133.4,242.9 133.9,244.7 134.4,243.7 135,246.8 135.5,245.4 136,244.3 136.6,244.6 137.1,246.2 137.6,244.3 138.1,244.8 138.7,246.2 139.2,247.8 139.7,243.6 140.3,245.5 140.8,243.9 141.3,243.3 141.8,244 142.4,244.7 142.9,243.2 143.4,245.1 144,246.3 144.5,243.2 145,245 145.6,245.5 146.1,242.5 146.6,238.2 147.1,236.4 147.7,235.8 148.2,237.9 148.7,237.2 149.3,234.3 149.8,233 150.3,228.9 150.8,230.6 151.4,231.6 151.9,230.1 152.4,231.7 153,228.9 153.5,229.8 154,228.5 154.5,228.9 155.1,229.1 155.6,228.4 156.1,227.7 156.7,227.4 157.2,227.5 157.7,229.5 158.2,225.5 158.8,227.1 159.3,226.5 159.8,226.9 160.4,223.9 160.9,224.8 161.4,223.7 161.9,225 162.5,225.2 163,224.9 163.5,226.8 164.1,225.4 164.6,225 165.1,223.6 165.6,223.1 166.2,224.8 166.7,224.2 167.2,224.8 167.8,225.8 168.3,226 168.8,225.1 169.3,226.1 169.9,226.1 170.4,224.5 170.9,225 171.5,226.4 172,224.9 172.5,223.7 173,223.7 173.6,224.6 174.1,226.3 174.6,226.5 175.2,222.7 175.7,223.3 176.2,224.1 176.7,224.5 177.3,225 177.8,225.7 178.3,224.1 178.9,224.6 179.4,225.4 179.9,223.8 180.4,223.4 181,223.3 181.5,225.3 182,226.8 182.6,226.4 183.1,224.5 183.6,225.8 184.1,225.6 184.7,226.4 185.2,223.6 185.7,226.7 186.3,226.8 186.8,227.4 187.3,226.5 187.9,225.1 188.4,224.2 188.9,225.2 189.4,228.5 190,224.6 190.5,225.9 191,228.5 191.6,227.3 192.1,226.4 192.6,226 193.1,226.4 193.7,226.3 194.2,226.4 194.7,226.2 195.3,227.1 195.8,225.4 196.3,226.6 196.8,225.1 197.4,223.2 197.9,224.3 198.4,227.3 199,226.6 199.5,226.3 200,224.3 200.5,225.1 201.1,226.3 201.6,225.1 202.1,226.9 202.7,225 203.2,225.7 203.7,225.5 204.2,226.4 204.8,226.4 205.3,225.1 205.8,225.2 206.4,226.1 206.9,223.2 207.4,228.7 207.9,226.8 208.5,226.2 209,224.1 209.5,227.5 210.1,225.6 210.6,224 211.1,225 211.6,226.3 212.2,228.3 212.7,225.6 213.2,226.5 213.8,226.1 214.3,227.8 214.8,226.6 215.3,225.6 215.9,226 216.4,228.1 216.9,226.4 217.5,225.6 218,225.4 218.5,225.7 219,226.7 219.6,225.7 220.1,225.7 220.6,228.3 221.2,227.1 221.7,223.8 222.2,225.1 222.7,225.2 223.3,226.3 223.8,223.8 224.3,224.8 224.9,226.8 225.4,227.1 225.9,226.1 226.4,227 227,226.4 227.5,224.5 228,227.7 228.6,225.6 229.1,224.7 229.6,224.7 230.2,225.4 230.7,224.1 231.2,224.4 231.7,224.8 232.3,224.6 232.8,225.7 233.3,226.2 233.9,226.4 234.4,224.4 234.9,225 235.4,224.1 236,226.8 236.5,223.7 237,225.4 237.6,223.9 238.1,226.5 238.6,223.6 239.1,224 239.7,222.4 240.2,225.9 240.7,227.4 241.3,224.5 241.8,222.4 242.3,226.7 242.8,225.6 243.4,226.1 243.9,224.5 244.4,224.9 245,226.6 245.5,225.4 246,221.6 246.5,224.2 247.1,223.5 247.6,225.7 248.1,223.5 248.7,225.1 249.2,225.9 249.7,225.8 250.2,226.1 250.8,224.5 251.3,222.1 251.8,223.5 252.4,228.5 252.9,228.1 253.4,230.7 253.9,233.2 254.5,236.1 255,235.1 255.5,233.5 256.1,235.5 256.6,233.7 257.1,236.2 257.6,235.8 258.2,237.3 258.7,236.5 259.2,238 259.8,235.9 260.3,238.4 260.8,236.8 261.3,237.2 261.9,237 262.4,238.1 262.9,238.7 263.5,235.8 264,236.7 264.5,238.5 265,238.7 265.6,239.1 266.1,238.1 266.6,238.4 267.2,240.2 267.7,237.7 268.2,238.4 268.7,238.2 269.3,239.9 269.8,237.1 270.3,238 270.9,236.3 271.4,235.6 271.9,240 272.5,236.4 273,239 273.5,237.6 274,237.9 274.6,239.3 275.1,239.9 275.6,238.8 276.2,237.8 276.7,237.1 277.2,238.6 277.7,234.9 278.3,239.1 278.8,238.4 279.3,239.2 279.9,238.2 280.4,235.2 280.9,238.1 281.4,239 282,239.1 282.5,235.1 283,236.9 283.6,236.8 284.1,238.6 284.6,239 285.1,238 285.7,239.5 286.2,236.9 286.7,238.8 287.3,237.7 287.8,238.1 288.3,235.8 288.8,237.7 289.4,239.2 289.9,239.3 290.4,238.6 291,237.5 291.5,235.9 292,238.7 292.5,238.6 293.1,235.3 293.6,238.5 294.1,239.4 294.7,237.7 295.2,238.6 295.7,236.1 296.2,237.3 296.8,238 297.3,237.8 297.8,237.8 298.4,237.1 298.9,239.6 299.4,238.9 299.9,239.1 300.5,237.8 301,238.3 301.5,240 302.1,238.1 302.6,235.8 303.1,236.4 303.6,234.8 304.2,235.5 304.7,238.2 305.2,238.7 305.8,238 306.3,237.7 306.8,238.6 307.3,236 307.9,237.5 308.4,236.5 308.9,238.6 309.5,239.9 310,236.8 310.5,237.6 311,237 311.6,236.8 312.1,235.8 312.6,238 313.2,238.5 313.7,236.7 314.2,237.8 314.8,236.6 315.3,236.7 315.8,235.1 316.3,237.6 316.9,237.7 317.4,237.6 317.9,239.2 318.5,239.3 319,237.9 319.5,237.4 320,237.6 320.6,236.2 321.1,234.9 321.6,236.2 322.2,236.6 322.7,237.2 323.2,235.9 323.7,238.6 324.3,239.6 324.8,237.8 325.3,236.5 325.9,237.5 326.4,236.5 326.9,236 327.4,234.3 328,236.8 328.5,237.2 329,236.9 329.6,234.8 330.1,237.9 330.6,238.8 331.1,238.2 331.7,237.8 332.2,237.8 332.7,236.9 333.3,238.6 333.8,235 334.3,237.5 334.8,235.6 335.4,238.1 335.9,236.9 336.4,235.6 337,238.2 337.5,237.8 338,237.1 338.5,239.7 339.1,238 339.6,236.7 340.1,234.5 340.7,237.2 341.2,236.3 341.7,236.4 342.2,238.5 342.8,240 343.3,238.7 343.8,236.3 344.4,237.7 344.9,237.2 345.4,239.5 345.9,237.2 346.5,236.1 347,235.4 347.5,237 348.1,238.5 348.6,238.3 349.1,235.9 349.6,237.4 350.2,236.7 350.7,237.5 351.2,236.3 351.8,235.3 352.3,239.2 352.8,237.8 353.3,239.2 353.9,237.8 354.4,237.7 354.9,236.2 355.5,239.8 356,239.9 356.5,237.2 357.1,235.9 357.6,235.7 358.1,231.1 358.6,229.9 359.2,230.7 359.7,229.6 360.2,227.5 360.8,224.9 361.3,226.1 361.8,227.2 362.3,223.2 362.9,223.6 363.4,224.2 363.9,225.4 364.5,223.5 365,223.3 365.5,220.6 366,219.5 366.6,220.6 367.1,220.5 367.6,218.9 368.2,221.4 368.7,219 369.2,218.7 369.7,219.7 370.3,220.9 370.8,217.9 371.3,219.6 371.9,219.1 372.4,218.9 372.9,218.5 373.4,218.8 374,217.2 374.5,219.1 375,218.2 375.6,217.4 376.1,219.2 376.6,217.3 377.1,218.1 377.7,216.1 378.2,217 378.7,217.5 379.3,216.2 379.8,217.3 380.3,218.1 380.8,215.9 381.4,216.9 381.9,217.2 382.4,215.2 383,215.7 383.5,218 384,214.8 384.5,216.5 385.1,213.9 385.6,213.7 386.1,214.8 386.7,215.3 387.2,215.3 387.7,214.9 388.2,216.3 388.8,215.9 389.3,214.3 389.8,212 390.4,213.7 390.9,214.8 391.4,214.5 391.9,215.6 392.5,214.9 393,216.5 393.5,214.8 394.1,216.1 394.6,214.8 395.1,213.5 395.6,217 396.2,215.8 396.7,218 397.2,216.2 397.8,217.2 398.3,216.9 398.8,215.7 399.4,215.5 399.9,214.4 400.4,214.7 400.9,216.1 401.5,216.9 402,215.2 402.5,217.1 403.1,215.6 403.6,214.8 404.1,215.4 404.6,217.4 405.2,218 405.7,214.5 406.2,215.3 406.8,216.7 407.3,216 407.8,215.4 408.3,217.1 408.9,216 409.4,214.6 409.9,214.3 410.5,214.3 411,214.7 411.5,216.5 412,213.9 412.6,215.3 413.1,212.6 413.6,215.3 414.2,215.6 414.7,217 415.2,218.2 415.7,215.3 416.3,217.9 416.8,215.9 417.3,215.2 417.9,214.1 418.4,214.6 418.9,216.5 419.4,216.2 420,217.9 420.5,213 421,215 421.6,214.7 422.1,214.2 422.6,218.3 423.1,214.7 423.7,215 424.2,215.2 424.7,217.2 425.3,216.3 425.8,214.1 426.3,214.1 426.8,214.6 427.4,216.3 427.9,214.5 428.4,212.6 429,213.2 429.5,213.3 430,214.6 430.5,212.9 431.1,216.6 431.6,214.6 432.1,215 432.7,211.7 433.2,212.6 433.7,215.1 434.2,215.4 434.8,213.1 435.3,212.9 435.8,214.9 436.4,215.1 436.9,216.3 437.4,215.6 437.9,215.8 438.5,214.5 439,214.4 439.5,215.6 440.1,212.2 440.6,216.1 441.1,214.8 441.7,215.3 442.2,213.1 442.7,212.7 443.2,216.7 443.8,215.2 444.3,215.8 444.8,216.3 445.4,215.7 445.9,214.6 446.4,213.5 446.9,215.9 447.5,215.6 448,214.2 448.5,214.4 449.1,215.7 449.6,216 450.1,215.5 450.6,214.4 451.2,215.8 451.7,215.6 452.2,215.4 452.2,237.4 451.7,237.7 451.2,239.2 450.6,239.2 450.1,238.1 449.6,239.8 449.1,238.2 448.5,238.3 448,236.6 447.5,237 446.9,237.2 446.4,235.3 445.9,236.9 445.4,236 444.8,237.4 444.3,237.3 443.8,237.3 443.2,237.6 442.7,236.4 442.2,235.4 441.7,238.7 441.1,237.7 440.6,239.3 440.1,237 439.5,240.3 439,237.1 438.5,238.9 437.9,238.3 437.4,236.9 436.9,237.4 436.4,237.7 435.8,237.2 435.3,236.1 434.8,238 434.2,236.6 433.7,240.1 433.2,237.1 432.7,236.8 432.1,238 431.6,237.2 431.1,237.7 430.5,238.3 430,238.8 429.5,238.6 429,237.6 428.4,238.3 427.9,236.9 427.4,236.9 426.8,236.6 426.3,232.9 425.8,235.4 425.3,237.5 424.7,236.7 424.2,237.9 423.7,237.2 423.1,237.9 422.6,238.5 422.1,239.1 421.6,238.9 421,238.4 420.5,235.4 420,240.4 419.4,238.4 418.9,238.5 418.4,234.2 417.9,237.7 417.3,237.4 416.8,236.9 416.3,238.6 415.7,236.7 415.2,236.7 414.7,236.3 414.2,236.8 413.6,236.7 413.1,236 412.6,238.7 412,236.4 411.5,238.8 411,235.5 410.5,235.6 409.9,236.8 409.4,236.4 408.9,238.8 408.3,238.7 407.8,237.1 407.3,238.5 406.8,237.6 406.2,238.4 405.7,237.1 405.2,237.1 404.6,240.5 404.1,239.5 403.6,235.9 403.1,235.9 402.5,238.7 402,239 401.5,240.1 400.9,239 400.4,239.4 399.9,236.9 399.4,239 398.8,238.4 398.3,239.9 397.8,240.5 397.2,236.2 396.7,237.4 396.2,236.7 395.6,238.2 395.1,235.2 394.6,236 394.1,235.3 393.5,237.5 393,236.8 392.5,237.3 391.9,239.1 391.4,239.8 390.9,236.1 390.4,237.4 389.8,235.2 389.3,237.4 388.8,237.1 388.2,238.5 387.7,239.5 387.2,237.1 386.7,239.5 386.1,241.1 385.6,237.4 385.1,236.6 384.5,240.1 384,237.5 383.5,239.2 383,239.3 382.4,239.9 381.9,240.9 381.4,241.1 380.8,241.5 380.3,240.2 379.8,239.5 379.3,240.3 378.7,240.5 378.2,242 377.7,241.3 377.1,241.8 376.6,241.6 376.1,243.7 375.6,243.2 375,242.6 374.5,244.8 374,241.8 373.4,239.8 372.9,242.2 372.4,244 371.9,245.2 371.3,246.6 370.8,246.7 370.3,244.4 369.7,248.1 369.2,246.1 368.7,247.4 368.2,248 367.6,248.1 367.1,248.4 366.6,250.1 366,249.8 365.5,250.6 365,250.8 364.5,252.5 363.9,255.9 363.4,253.3 362.9,253.1 362.3,252.3 361.8,256 361.3,256.1 360.8,255.1 360.2,255.4 359.7,259.1 359.2,259.7 358.6,259 358.1,259.9 357.6,261 357.1,264.4 356.5,262.1 356,262.7 355.5,265.1 354.9,260.7 354.4,261.1 353.9,261.1 353.3,264.4 352.8,263 352.3,263.6 351.8,260.8 351.2,263.5 350.7,264.3 350.2,262.3 349.6,262.2 349.1,263.3 348.6,262.7 348.1,264.1 347.5,263.2 347,260.6 346.5,265.3 345.9,261.4 345.4,262.6 344.9,262 344.4,263.4 343.8,263.1 343.3,261.7 342.8,259.7 342.2,262.2 341.7,262.2 341.2,259.7 340.7,260 340.1,259.2 339.6,256 339.1,263.5 338.5,263.2 338,260.3 337.5,262.3 337,260.7 336.4,260.3 335.9,260.7 335.4,260.3 334.8,258.6 334.3,262 333.8,263.3 333.3,262.9 332.7,262.2 332.2,261.6 331.7,262.6 331.1,260.9 330.6,262.7 330.1,260.4 329.6,259.8 329,261.3 328.5,261.4 328,263.1 327.4,263.1 326.9,262.3 326.4,260.9 325.9,260.2 325.3,261.2 324.8,260.1 324.3,262.1 323.7,262.8 323.2,259.2 322.7,259.9 322.2,260.1 321.6,261.1 321.1,261.1 320.6,263.8 320,261.1 319.5,262.8 319,260.3 318.5,262.7 317.9,263.5 317.4,261.4 316.9,260 316.3,259.8 315.8,261 315.3,259.7 314.8,259.9 314.2,260.6 313.7,260.9 313.2,262.8 312.6,264.2 312.1,261.7 311.6,262.6 311,261.4 310.5,262.3 310,262.9 309.5,262.6 308.9,262.9 308.4,261.5 307.9,260 307.3,262 306.8,261.9 306.3,262.6 305.8,261.7 305.2,260.4 304.7,262.4 304.2,260.2 303.6,261.4 303.1,261.5 302.6,259.2 302.1,262.9 301.5,262.2 301,260.8 300.5,263.1 299.9,262.7 299.4,262.3 298.9,263.3 298.4,262 297.8,262.4 297.3,261.1 296.8,262.9 296.2,261 295.7,262.6 295.2,262.2 294.7,261.4 294.1,261.2 293.6,261.3 293.1,260.9 292.5,264.6 292,263.3 291.5,262.4 291,260.7 290.4,262.8 289.9,262.6 289.4,265.1 288.8,263.1 288.3,260.3 287.8,262.7 287.3,261.3 286.7,260.9 286.2,261.7 285.7,261.3 285.1,259.7 284.6,262.5 284.1,263.4 283.6,261.3 283,262.4 282.5,261.5 282,262.2 281.4,263.2 280.9,261.3 280.4,260.5 279.9,261.8 279.3,263.9 278.8,263.4 278.3,262.5 277.7,262.8 277.2,262.9 276.7,260.6 276.2,260.9 275.6,262.1 275.1,265.3 274.6,263.4 274,262.7 273.5,262.1 273,262.8 272.5,259.9 271.9,263.3 271.4,261.8 270.9,262 270.3,260.5 269.8,261.8 269.3,263.6 268.7,263.1 268.2,265.9 267.7,263.7 267.2,264.1 266.6,263.1 266.1,262.1 265.6,263.2 265,263.4 264.5,261.6 264,262.4 263.5,261.9 262.9,262.9 262.4,260.1 261.9,262 261.3,259 260.8,260.3 260.3,261.6 259.8,260.4 259.2,259.8 258.7,260.3 258.2,261.2 257.6,261 257.1,261.3 256.6,262 256.1,260 255.5,259.1 255,261.8 254.5,260 253.9,260.9 253.4,256.8 252.9,256.2 252.4,254.5 251.8,247.1 251.3,243.2 250.8,241.5 250.2,243.1 249.7,243.6 249.2,244.5 248.7,244.5 248.1,241.7 247.6,244 247.1,242.1 246.5,242.5 246,242.1 245.5,243.8 245,245.9 244.4,243 243.9,243.6 243.4,246.5 242.8,245 242.3,245.3 241.8,241.8 241.3,245.4 240.7,242.5 240.2,243.9 239.7,244.9 239.1,244.7 238.6,244.5 238.1,243.5 237.6,242.9 237,242.7 236.5,242.3 236,243.8 235.4,244.4 234.9,243 234.4,245 233.9,244.5 233.3,245 232.8,245.5 232.3,243.4 231.7,243.2 231.2,244.1 230.7,244.9 230.2,244.5 229.6,246.8 229.1,246.4 228.6,243.9 228,246.9 227.5,245.2 227,246.1 226.4,246.3 225.9,243.6 225.4,246 224.9,246.2 224.3,244.7 223.8,247.6 223.3,244.9 222.7,244.6 222.2,245.7 221.7,245 221.2,245.7 220.6,244.5 220.1,243.9 219.6,244.1 219,244.5 218.5,244.8 218,244.5 217.5,244.2 216.9,244.1 216.4,245.2 215.9,245.2 215.3,246.3 214.8,243.7 214.3,246.1 213.8,245.6 213.2,243.9 212.7,246.7 212.2,245.5 211.6,244.9 211.1,244.7 210.6,244.4 210.1,242.9 209.5,245 209,245.4 208.5,244.3 207.9,246.7 207.4,246.6 206.9,243.1 206.4,244.9 205.8,244.4 205.3,243.8 204.8,244.8 204.2,244.1 203.7,242.9 203.2,244.6 202.7,244 202.1,243.4 201.6,243.1 201.1,243.2 200.5,244 200,241.6 199.5,242.8 199,246.5 198.4,245.4 197.9,245.4 197.4,246 196.8,246.6 196.3,244.9 195.8,243.5 195.3,243.5 194.7,244.7 194.2,244.9 193.7,245.2 193.1,245 192.6,245.4 192.1,245.3 191.6,244.3 191,244.9 190.5,243.9 190,243.2 189.4,243.8 188.9,244.4 188.4,244.8 187.9,242.1 187.3,247.3 186.8,245.4 186.3,246.4 185.7,244.9 185.2,244.1 184.7,243.5 184.1,246 183.6,243.4 183.1,244.2 182.6,244.4 182,245.6 181.5,244.6 181,243.5 180.4,243.4 179.9,241.9 179.4,242.9 178.9,243.7 178.3,246.1 177.8,245.8 177.3,243.7 176.7,243.5 176.2,243 175.7,243.5 175.2,244 174.6,244.5 174.1,246.2 173.6,243.5 173,242.7 172.5,241.9 172,244.9 171.5,243.7 170.9,244.1 170.4,243.4 169.9,243.7 169.3,245.1 168.8,246 168.3,244.4 167.8,246.6 167.2,244.9 166.7,244.4 166.2,244.5 165.6,243.1 165.1,243.3 164.6,244.7 164.1,244.3 163.5,244.2 163,244.1 162.5,244.5 161.9,243.2 161.4,246.6 160.9,244.9 160.4,246.4 159.8,245.4 159.3,245.4 158.8,247.8 158.2,245.4 157.7,247.8 157.2,249.5 156.7,247.9 156.1,248.9 155.6,249.4 155.1,252.1 154.5,250.6 154,251.4 153.5,251.9 153,253.2 152.4,254 151.9,253.9 151.4,256.3 150.8,255.1 150.3,257.3 149.8,259.3 149.3,259.9 148.7,263.6 148.2,265.9 147.7,266.6 147.1,267 146.6,271.2 146.1,272.9 145.6,273.8 145,271.3 144.5,270.2 144,269.9 143.4,269.9 142.9,269.1 142.4,269.6 141.8,269.5 141.3,270.1 140.8,269.6 140.3,271.9 139.7,271 139.2,271.1 138.7,268.9 138.1,272.4 137.6,270.1 137.1,268.8 136.6,267.4 136,269.1 135.5,268.5 135,269.5 134.4,268.9 133.9,267.8 133.4,267.7 132.9,267.7 132.3,267.1 131.8,270 131.3,267.8 130.7,267.7 130.2,268.3 129.7,268 129.2,270.4 128.6,269 128.1,268.1 127.6,267.6 127,268.4 126.5,266 126,267.4 125.5,266.5 124.9,269.1 124.4,270.4 123.9,267.8 123.3,268 122.8,265.1 122.3,267.4 121.8,267.2 121.2,265.9 120.7,270.2 120.2,269.3 119.6,268.5 119.1,265.8 118.6,267.2 118.1,267 117.5,266.7 117,265.9 116.5,265.9 115.9,265.3 115.4,267.3 114.9,266.5 114.4,269.1 113.8,266.8 113.3,267.2 112.8,266.5 112.2,269.4 111.7,267.5 111.2,269.1 110.7,267.9 110.1,268.7 109.6,266.1 109.1,267 108.5,267.5 108,267.9 107.5,267.9 107,265.7 106.4,266.3 105.9,263.8 105.4,266.4 104.8,264.6 104.3,266.1 103.8,267.2 103.2,264.3 102.7,266.6 102.2,267.7 101.7,267.6 101.1,264.6 100.6,262.5 100.1,263.7 99.5,263.4 99,263.8 98.5,264.2 98,265.2 97.4,266.2 96.9,264.9 96.4,263.7 95.8,265.6 95.3,263.8 94.8,263.7 94.3,264.2 93.7,263.4 93.2,263.8 92.7,262.7 92.1,263.4 91.6,264.5 91.1,265.8 90.6,264.4 90,260.6 89.5,262.9 89,261.7 88.4,260.3 87.9,262.2 87.4,261.6 86.9,262.9 86.3,261.8 85.8,264 85.3,262.6 84.7,262.5 84.2,261.5 83.7,260.7 83.2,262.5 82.6,258.8 82.1,262.6 81.6,262.5 81,261.8 80.5,262.8 80,259.5 79.5,260.2 78.9,260.1 78.4,261.9 77.9,261.8 77.3,262.1 76.8,261.2 76.3,260.1 75.8,259.1 75.2,258.8 74.7,260 74.2,259.7 73.6,260 73.1,257.6 72.6,258.9 72.1,257.7 71.5,259.3 71,258 70.5,259.9 69.9,261 69.4,258.3 68.9,258.1 68.4,261.5 67.8,257.6 67.3,259.3 66.8,260.8 66.2,256.7 65.7,257.8 65.2,257.9 64.7,257.5 64.1,256.5 63.6,257.3 63.1,256.2 62.5,258.2 62,258 61.5,256.6 61,256.9 60.4,258.2 59.9,256.7 59.4,258.3 58.8,256.5 58.3,255.8 57.8,254.3 57.2,252.9 56.7,255.4 56.2,256.4 55.7,255.2 55.1,254.2 54.6,253.6 54.1,255.5 53.5,253.7 53,251.1 52.5,253 52,252.5 51.4,253.9 50.9,253.1 50.4,251 49.8,252.2 49.3,251.1 48.8,251 48.3,251.1 47.7,250.1 47.2,250.9 46.7,248.6 46.1,247.9 45.6,247.3 45.1,246.3 44.6,244.6 44,242 43.5,242.5 43,239.7 42.4,240.8 41.9,237.4 41.4,231.5 40.9,218.1 40.3,174.4 39.8,151.2 39.3,153.4 38.7,153.7 38.2,152.5 37.7,153.3 37.2,151.2 36.6,152.7 36.1,152.1 35.6,152.1 35,152.6 34.5,153.8 34,153.1 33.5,151.5 32.9,152.4 32.4,152.4 31.9,153.4 31.3,152.5 30.8,152.5 30.3,150.8 29.8,153.5 29.2,152.1Z" fill="#e4e4e4"/>
<path d="M39.8,149.3V279.4" stroke="#a8d8a8" stroke-width="1"/>
<path d="M145.6,149.3V279.4" stroke="#a0a0ff" stroke-width="1"/>
<path d="M251.3,149.3V279.4" stroke="#a8d8a8" stroke-width="1"/>
<path d="M357.1,149.3V279.4" stroke="#a0a0ff" stroke-width="1"/>
<path d="M29.2,152.8L29.8,152.5 30.3,152.1 30.8,152.5 31.3,152 31.9,152.3 32.4,152.5 32.9,152.2 33.5,152 34,152.5 34.5,152.3 35,152.5 35.6,152.6 36.1,152.4 36.6,152.4 37.2,152.4 37.7,152.5 38.2,152.1 38.7,152.7 39.3,152.8 39.8,151.7 40.3,172.8 40.9,214.7 41.4,225 41.9,230.2 42.4,232 43,232.8 43.5,234.1 44,234.4 44.6,237.7 45.1,238.5 45.6,238.4 46.1,238.6 46.7,239.2 47.2,240.4 47.7,241.3 48.3,241 48.8,240.7 49.3,241.6 49.8,242.9 50.4,242.7 50.9,243.2 51.4,243.6 52,244.2 52.5,243.9 53,242.7 53.5,244 54.1,244.8 54.6,245.2 55.1,245.5 55.7,244.6 56.2,246.5 56.7,246.2 57.2,245.3 57.8,245.6 58.3,246 58.8,246.1 59.4,247.6 59.9,247 60.4,247.9 61,247.8 61.5,247 62,247.5 62.5,247.2 63.1,246.7 63.6,247.9 64.1,247.2 64.7,246.6 65.2,248.2 65.7,248 66.2,248.4 66.8,249.7 67.3,250.2 67.8,249.3 68.4,250.9 68.9,249.6 69.4,249.2 69.9,249.5 70.5,249.3 71,248.9 71.5,249.6 72.1,248.6 72.6,249.4 73.1,248.9 73.6,249.2 74.2,248.3 74.7,249.2 75.2,248.5 75.8,248 76.3,249.2 76.8,249.8 77.3,250.1 77.9,249.9 78.4,250.1 78.9,249.9 79.5,249.6 80,249.4 80.5,250.3 81,251 81.6,250.9 82.1,250.1 82.6,249.8 83.2,250.8 83.7,250.9 84.2,251.2 84.7,252.9 85.3,251.4 85.8,251.5 86.3,251.5 86.9,251.8 87.4,250.9 87.9,250.6 88.4,249.9 89,250.7 89.5,251.4 90,251.9 90.6,253 91.1,252.9 91.6,253.6 92.1,252.9 92.7,252.1 93.2,252.3 93.7,252.6 94.3,252.9 94.8,252.6 95.3,253.4 95.8,254.3 96.4,253.1 96.9,252.8 97.4,254 98,252.9 98.5,254 99,253.2 99.5,252.2 100.1,253.4 100.6,252.7 101.1,253.7 101.7,254.7 102.2,255.4 102.7,254.3 103.2,254.7 103.8,255.7 104.3,254.9 104.8,253.5 105.4,254.6 105.9,253.9 106.4,255.1 107,254.7 107.5,254.1 108,255.8 108.5,255.8 109.1,255.7 109.6,255.5 110.1,256.4 110.7,255.8 111.2,255.1 111.7,254.9 112.2,256.4 112.8,255.2 113.3,255.5 113.8,255.6 114.4,255.1 114.9,254.5 115.4,254.3 115.9,254.7 116.5,255.2 117,254.9 117.5,255.7 118.1,255.9 118.6,256 119.1,255.1 119.6,257 120.2,256.7 120.7,256.9 121.2,255.4 121.8,255.4 122.3,255.4 122.8,256.2 123.3,255.9 123.9,255.5 124.4,256.4 124.9,256.2 125.5,256.2 126,256.1 126.5,256.1 127,256.2 127.6,257.4 128.1,256.9 128.6,257.5 129.2,256.9 129.7,257.3 130.2,256.2 130.7,255.6 131.3,257 131.8,257.1 132.3,256.5 132.9,256.3 133.4,256.8 133.9,256.9 134.4,257 135,257.2 135.5,256.8 136,256.7 136.6,256.8 137.1,257.4 137.6,258.2 138.1,257.9 138.7,257.8 139.2,258.2 139.7,257.6 140.3,258.4 140.8,257.8 141.3,257.3 141.8,256.7 142.4,257.1 142.9,256.9 143.4,258 144,258.3 144.5,257.4 145,258.7 145.6,258 146.1,256.7 146.6,251.1 147.1,248.6 147.7,248.4 148.2,247.7 148.7,245.7 149.3,243.6 149.8,241.6 150.3,240.4 150.8,240.5 151.4,240.5 151.9,239.7 152.4,239.5 153,239.6 153.5,238.9 154,238 154.5,238 155.1,238.1 155.6,236.1 156.1,237.3 156.7,236.4 157.2,235.9 157.7,236.6 158.2,235.7 158.8,236.1 159.3,235.7 159.8,234.9 160.4,234.7 160.9,234.6 161.4,234.5 161.9,234.7 162.5,234.1 163,234.7 163.5,234.6 164.1,233.5 164.6,234.5 165.1,234.2 165.6,233.7 166.2,234.7 166.7,234.1 167.2,235.2 167.8,235.5 168.3,235 168.8,234.9 169.3,234.8 169.9,235.2 170.4,234.5 170.9,234.6 171.5,234.8 172,235.2 172.5,232.8 173,234.4 173.6,233.4 174.1,234.6 174.6,234.6 175.2,233.4 175.7,234.8 176.2,234.6 176.7,234.1 177.3,234.6 177.8,234.6 178.3,234.5 178.9,233.9 179.4,234.3 179.9,234.4 180.4,234.1 181,233.7 181.5,234.6 182,235.5 182.6,235.2 183.1,233.8 183.6,234.4 184.1,234.8 184.7,235 185.2,233.7 185.7,234.8 186.3,235 186.8,235.5 187.3,235.8 187.9,233 188.4,234.9 188.9,234.9 189.4,235.4 190,234.5 190.5,235.6 191,236.3 191.6,235.8 192.1,235.1 192.6,233.9 193.1,235.1 193.7,235.5 194.2,235.4 194.7,235.8 195.3,235.6 195.8,235.4 196.3,235.5 196.8,236 197.4,234.8 197.9,235.2 198.4,235.5 199,235.7 199.5,234.8 200,234.3 200.5,234.3 201.1,235.1 201.6,234.5 202.1,235.1 202.7,235 203.2,235.2 203.7,234.4 204.2,235.5 204.8,235.5 205.3,235.3 205.8,234.9 206.4,235.6 206.9,234.4 207.4,237.4 207.9,235.7 208.5,235.1 209,235 209.5,236 210.1,234.7 210.6,234.2 211.1,234.5 211.6,235.8 212.2,235.6 212.7,234.7 213.2,235.2 213.8,236 214.3,236.1 214.8,235.3 215.3,236.6 215.9,235.8 216.4,235.8 216.9,236.5 217.5,235.1 218,234.4 218.5,234.9 219,235.6 219.6,235.5 220.1,234.4 220.6,235.8 221.2,235.4 221.7,234.3 222.2,235 222.7,235.3 223.3,235.1 223.8,234.4 224.3,235.2 224.9,236.4 225.4,236.8 225.9,235.7 226.4,236.2 227,235.5 227.5,234.6 228,236.5 228.6,234.9 229.1,234.6 229.6,234.9 230.2,234.3 230.7,234.2 231.2,233.9 231.7,233.1 232.3,234.1 232.8,235.2 233.3,234.8 233.9,234.8 234.4,233.7 234.9,233.4 235.4,233.3 236,233.5 236.5,232.7 237,233.4 237.6,233.2 238.1,234.4 238.6,234.2 239.1,234.6 239.7,234.3 240.2,233.9 240.7,234.8 241.3,234.7 241.8,233.2 242.3,234.6 242.8,235.3 243.4,235.3 243.9,234.3 244.4,233.8 245,234.7 245.5,233.8 246,233.9 246.5,234.5 247.1,233.4 247.6,234.3 248.1,232.8 248.7,234.3 249.2,234 249.7,234.1 250.2,233.9 250.8,233.5 251.3,233.6 251.8,236.6 252.4,242 252.9,244 253.4,246.5 253.9,247.2 254.5,247.6 255,248.5 255.5,247.1 256.1,247.6 256.6,248.1 257.1,248.5 257.6,248.3 258.2,248.8 258.7,248.1 259.2,249.2 259.8,248.6 260.3,249.3 260.8,248.1 261.3,248.6 261.9,248.4 262.4,248.1 262.9,249.3 263.5,247.9 264,248.9 264.5,248.8 265,249.7 265.6,249.1 266.1,248.4 266.6,249.5 267.2,250.1 267.7,249.6 268.2,249.9 268.7,249.7 269.3,250.1 269.8,248.3 270.3,248.1 270.9,248.7 271.4,249.5 271.9,249 272.5,247.7 273,250 273.5,249.6 274,249.9 274.6,249.2 275.1,250.2 275.6,249.1 276.2,249.3 276.7,249.2 277.2,249.6 277.7,248.4 278.3,248.9 278.8,249.2 279.3,248.6 279.9,248.9 280.4,247.9 280.9,249.2 281.4,249.5 282,249.3 282.5,247.7 283,248.6 283.6,249.4 284.1,249.1 284.6,249.4 285.1,249 285.7,249.5 286.2,249.5 286.7,249.2 287.3,248.9 287.8,249.9 288.3,249.9 288.8,250.3 289.4,251.9 289.9,250.4 290.4,250.2 291,249.3 291.5,248.7 292,249.3 292.5,250.8 293.1,249.5 293.6,249.4 294.1,248.8 294.7,248.8 295.2,249.5 295.7,248.5 296.2,248.2 296.8,249.5 297.3,248.3 297.8,249.1 298.4,248.8 298.9,249.5 299.4,250.1 299.9,249.9 300.5,249.5 301,248.3 301.5,249.1 302.1,250.2 302.6,247.1 303.1,248.1 303.6,248.8 304.2,247.6 304.7,249.7 305.2,249.3 305.8,249.3 306.3,248.8 306.8,249.3 307.3,248.9 307.9,249.9 308.4,248.6 308.9,249.1 309.5,250 310,249 310.5,249.3 311,248.4 311.6,248.7 312.1,247.6 312.6,249 313.2,249.7 313.7,248.6 314.2,249.4 314.8,247.1 315.3,247.4 315.8,247.1 316.3,248.1 316.9,248.9 317.4,248.4 317.9,249.5 318.5,249.4 319,249 319.5,248.9 320,249.2 320.6,249.5 321.1,247.4 321.6,248.6 322.2,248.3 322.7,247.9 323.2,248.1 323.7,249.1 324.3,249.3 324.8,247.7 325.3,248.1 325.9,248.3 326.4,247.7 326.9,248.8 327.4,247.7 328,248.2 328.5,249.3 329,247.9 329.6,248 330.1,248.9 330.6,250.2 331.1,249.1 331.7,248.8 332.2,249 332.7,248.9 333.3,248.7 333.8,248 334.3,248.6 334.8,247.2 335.4,248.8 335.9,248.7 336.4,248.2 337,248.7 337.5,248.9 338,247.7 338.5,249.7 339.1,249.5 339.6,246.9 340.1,247.5 340.7,247.7 341.2,248.1 341.7,248.1 342.2,248.7 342.8,248.7 343.3,249.5 343.8,248.4 344.4,248.8 344.9,249 345.4,249 345.9,249.2 346.5,249.9 347,248.3 347.5,249 348.1,249.5 348.6,249.2 349.1,248.5 349.6,248.3 350.2,248.5 350.7,248.6 351.2,249 351.8,248 352.3,248.6 352.8,248.7 353.3,249.9 353.9,248.6 354.4,248.7 354.9,248.8 355.5,250.9 356,250.4 356.5,249.1 357.1,249.7 357.6,246.9 358.1,244.2 358.6,240.9 359.2,240.3 359.7,239.7 360.2,238 360.8,237.7 361.3,237.6 361.8,237.4 362.3,234 362.9,236 363.4,235.3 363.9,235.7 364.5,234.2 365,233 365.5,231.9 366,231.1 366.6,231.4 367.1,230.8 367.6,230.2 368.2,230.9 368.7,230.5 369.2,230.9 369.7,230.2 370.3,230 370.8,228.8 371.3,229.3 371.9,228.1 372.4,228.9 372.9,228.8 373.4,228.6 374,228.7 374.5,229.2 375,227.7 375.6,228.6 376.1,229.2 376.6,228.6 377.1,228.9 377.7,227.5 378.2,227.5 378.7,227.2 379.3,226.7 379.8,227.9 380.3,228.6 380.8,227.5 381.4,226.2 381.9,227.9 382.4,226.6 383,226 383.5,226.5 384,226.8 384.5,227.4 385.1,225.6 385.6,225.4 386.1,226.9 386.7,227.4 387.2,226.3 387.7,226 388.2,226 388.8,225.7 389.3,225.5 389.8,225 390.4,224.5 390.9,225.6 391.4,225.9 391.9,225.9 392.5,224.6 393,225.3 393.5,225.7 394.1,225.3 394.6,225.7 395.1,224.8 395.6,226.4 396.2,226 396.7,225.8 397.2,225.7 397.8,226.3 398.3,227.3 398.8,226.3 399.4,226.4 399.9,225.8 400.4,225.2 400.9,225.3 401.5,225.9 402,226.1 402.5,225.7 403.1,225 403.6,225.3 404.1,225.5 404.6,226.8 405.2,226.1 405.7,226 406.2,225.4 406.8,226.1 407.3,226.2 407.8,226.2 408.3,225.6 408.9,226 409.4,224.8 409.9,225 410.5,225.3 411,224.5 411.5,225.9 412,224.5 412.6,225.3 413.1,224.5 413.6,225.6 414.2,225.8 414.7,226.8 415.2,226.1 415.7,226 416.3,227.4 416.8,225.3 417.3,226.3 417.9,226.1 418.4,224.2 418.9,225.9 419.4,225.1 420,227.7 420.5,224.7 421,226 421.6,226.1 422.1,225.7 422.6,226.3 423.1,225.1 423.7,225.5 424.2,225.6 424.7,226.1 425.3,226 425.8,224.9 426.3,224.5 426.8,224.7 427.4,224.8 427.9,225.1 428.4,225 429,224.8 429.5,225.8 430,226.2 430.5,224.4 431.1,226.5 431.6,224.9 432.1,225 432.7,223.8 433.2,224.3 433.7,225.1 434.2,225 434.8,224.4 435.3,224.6 435.8,225.4 436.4,226 436.9,226.7 437.4,226.7 437.9,225.9 438.5,225.8 439,225.5 439.5,226 440.1,224.1 440.6,225.8 441.1,224.9 441.7,225.1 442.2,224.5 442.7,224.7 443.2,226.5 443.8,225.7 444.3,225.4 444.8,225.1 445.4,225.4 445.9,225.9 446.4,224.9 446.9,225.7 447.5,225.7 448,225.1 448.5,225.8 449.1,225.8 449.6,225.5 450.1,224 450.6,225.2 451.2,225.5 451.7,225.5 452.2,225" fill="none" stroke="#000" stroke-width="1.45" stroke-linejoin="round"/>
<path d="M29,149.3V279.4H462.8" fill="none" stroke="#555" stroke-width="1"/>
<path d="M26,152.5H29" stroke="#555" stroke-width="0.8"/>
<text x="25" y="154.8" font-size="6.7" text-anchor="end" fill="#151515" >0</text>
<path d="M26,184.2H29" stroke="#555" stroke-width="0.8"/>
<text x="25" y="186.5" font-size="6.7" text-anchor="end" fill="#151515" >-100</text>
<path d="M26,215.9H29" stroke="#555" stroke-width="0.8"/>
<text x="25" y="218.2" font-size="6.7" text-anchor="end" fill="#151515" >-200</text>
<path d="M26,247.7H29" stroke="#555" stroke-width="0.8"/>
<text x="25" y="250" font-size="6.7" text-anchor="end" fill="#151515" >-300</text>
<path d="M26,279.4H29" stroke="#555" stroke-width="0.8"/>
<text x="25" y="281.7" font-size="6.7" text-anchor="end" fill="#151515" >-400</text>
<path d="M39.8,279.4V282.6" stroke="#555" stroke-width="0.8"/>
<text x="39.8" y="288.6" font-size="6.7" text-anchor="middle" fill="#151515" >0</text>
<path d="M92.7,279.4V282.6" stroke="#555" stroke-width="0.8"/>
<text x="92.7" y="288.6" font-size="6.7" text-anchor="middle" fill="#151515" >50</text>
<path d="M145.6,279.4V282.6" stroke="#555" stroke-width="0.8"/>
<text x="145.6" y="288.6" font-size="6.7" text-anchor="middle" fill="#151515" >100</text>
<path d="M198.4,279.4V282.6" stroke="#555" stroke-width="0.8"/>
<text x="198.4" y="288.6" font-size="6.7" text-anchor="middle" fill="#151515" >150</text>
<path d="M251.3,279.4V282.6" stroke="#555" stroke-width="0.8"/>
<text x="251.3" y="288.6" font-size="6.7" text-anchor="middle" fill="#151515" >200</text>
<path d="M304.2,279.4V282.6" stroke="#555" stroke-width="0.8"/>
<text x="304.2" y="288.6" font-size="6.7" text-anchor="middle" fill="#151515" >250</text>
<path d="M357.1,279.4V282.6" stroke="#555" stroke-width="0.8"/>
<text x="357.1" y="288.6" font-size="6.7" text-anchor="middle" fill="#151515" >300</text>
<path d="M409.9,279.4V282.6" stroke="#555" stroke-width="0.8"/>
<text x="409.9" y="288.6" font-size="6.7" text-anchor="middle" fill="#151515" >350</text>
<path d="M462.8,279.4V282.6" stroke="#555" stroke-width="0.8"/>
<text x="462.8" y="288.6" font-size="6.7" text-anchor="middle" fill="#151515" >400</text>
<text x="246.4" y="298" font-size="8.1" text-anchor="middle" fill="#151515" textLength="33.4" lengthAdjust="spacingAndGlyphs">Time (ms)</text>
<text x="45.2" y="147.8" font-size="6.6" fill="#222"><tspan fill="#1e961e">520 nm</tspan>, 340 μJ, 1 ms</text>
<text x="150.8" y="147.8" font-size="6.6" fill="#222"><tspan fill="#0000ff">385 nm</tspan>, 112 μJ, 1 ms</text>
<text x="256.8" y="147.8" font-size="6.6" fill="#222"><tspan fill="#1e961e">520 nm</tspan>, 340 μJ, 1 ms</text>
<text x="362.7" y="147.8" font-size="6.6" fill="#222"><tspan fill="#0000ff">385 nm</tspan>, 112 μJ, 1 ms</text>
<path d="M29.2,322.1L29.8,322.8 30.3,323.3 30.8,322 31.3,322.4 31.9,322.2 32.4,321.4 32.9,321.1 33.5,322.3 34,321.2 34.5,322.4 35,322.9 35.6,322.2 36.1,321.5 36.6,321.2 37.2,322.9 37.7,321.2 38.2,322.5 38.7,323.5 39.3,322.3 39.8,322.4 40.3,335.9 40.9,365.8 41.4,389.8 41.9,400.9 42.4,403.7 43,406.6 43.5,407.4 44,407.4 44.6,403.4 45.1,403.7 45.6,403.6 46.1,402.3 46.7,403.8 47.2,402.3 47.7,403.1 48.3,403 48.8,402.1 49.3,402.3 49.8,401.3 50.4,402.6 50.9,400.6 51.4,399.9 52,399.4 52.5,401.6 53,400 53.5,401.6 54.1,400.6 54.6,400.6 55.1,401.7 55.7,400.2 56.2,399.9 56.7,400.8 57.2,402.1 57.8,400.8 58.3,399.7 58.8,399.9 59.4,401.1 59.9,401.1 60.4,400.3 61,401.7 61.5,400.3 62,399.5 62.5,399.4 63.1,399.9 63.6,399.2 64.1,399.5 64.7,398.9 65.2,401.5 65.7,400.8 66.2,401.3 66.8,401.5 67.3,402 67.8,400.9 68.4,401.9 68.9,401.8 69.4,400.9 69.9,400.4 70.5,400.5 71,401.8 71.5,399.1 72.1,402 72.6,399.4 73.1,402.1 73.6,401.8 74.2,400.9 74.7,401.6 75.2,401.9 75.8,401.5 76.3,401.7 76.8,403.7 77.3,403.5 77.9,404.3 78.4,403 78.9,402.6 79.5,404.2 80,404.8 80.5,402.3 81,404 81.6,403.3 82.1,402.7 82.6,401.4 83.2,403.4 83.7,403.2 84.2,403 84.7,403.1 85.3,403.2 85.8,403.3 86.3,405.5 86.9,402.2 87.4,404 87.9,402.9 88.4,402.7 89,403.9 89.5,403.6 90,402.9 90.6,403.3 91.1,403.2 91.6,404 92.1,402.7 92.7,404.5 93.2,403.4 93.7,403.1 94.3,402.4 94.8,403.9 95.3,402.7 95.8,403.2 96.4,403.8 96.9,405.3 97.4,405.5 98,404.7 98.5,403.7 99,404.7 99.5,404.9 100.1,406 100.6,405.3 101.1,404.4 101.7,404 102.2,404.9 102.7,404.6 103.2,405 103.8,404.5 104.3,403.4 104.8,404.4 105.4,404.5 105.9,404.5 106.4,405.8 107,404.7 107.5,405.9 108,405 108.5,405.9 109.1,406.6 109.6,407.1 110.1,406.1 110.7,406.4 111.2,406.1 111.7,405.7 112.2,406.4 112.8,407.8 113.3,408.6 113.8,406.3 114.4,407 114.9,404.8 115.4,405.1 115.9,404.4 116.5,404.5 117,406.3 117.5,406.4 118.1,406.3 118.6,406.6 119.1,406.2 119.6,406.7 120.2,406.8 120.7,408.2 121.2,408.1 121.8,408.3 122.3,407.5 122.8,406.7 123.3,407.3 123.9,407.2 124.4,406.2 124.9,406.3 125.5,407.3 126,406.3 126.5,407.3 127,405.5 127.6,405.7 128.1,406.8 128.6,405.8 129.2,406.5 129.7,406.4 130.2,407 130.7,405.6 131.3,407.1 131.8,406 132.3,407.6 132.9,408.5 133.4,408.3 133.9,408.2 134.4,405.2 135,408.1 135.5,407.8 136,406.8 136.6,406.5 137.1,409.7 137.6,407 138.1,406.8 138.7,407.9 139.2,407 139.7,406.9 140.3,408.1 140.8,406.8 141.3,407.3 141.8,408.5 142.4,408.3 142.9,406.1 143.4,407.6 144,407.6 144.5,407.1 145,408.1 145.6,407.3 146.1,407.3 146.6,405.6 147.1,406.2 147.7,407.5 148.2,407.8 148.7,406.8 149.3,407.2 149.8,408.4 150.3,408.2 150.8,407.5 151.4,407.3 151.9,408.4 152.4,409.2 153,409.2 153.5,407 154,408 154.5,407.6 155.1,405.7 155.6,409.6 156.1,408.6 156.7,409.4 157.2,408.7 157.7,409.5 158.2,409.2 158.8,409.1 159.3,408 159.8,407.8 160.4,408.8 160.9,408.3 161.4,408.4 161.9,407.9 162.5,407.3 163,407.7 163.5,406.9 164.1,406.3 164.6,407 165.1,410.3 165.6,408.8 166.2,409.1 166.7,409.3 167.2,412.5 167.8,408.7 168.3,408.9 168.8,408.6 169.3,407.8 169.9,407.2 170.4,409.6 170.9,409.2 171.5,407.5 172,407.1 172.5,409.1 173,408.9 173.6,406.8 174.1,408.1 174.6,408 175.2,407.8 175.7,408.1 176.2,408.8 176.7,408.2 177.3,408.1 177.8,408.7 178.3,407.3 178.9,409 179.4,408.2 179.9,406.9 180.4,407.7 181,407.5 181.5,407.9 182,407.5 182.6,408.9 183.1,410.3 183.6,409.2 184.1,409.1 184.7,407.4 185.2,408 185.7,409.1 186.3,408.2 186.8,408.7 187.3,408.6 187.9,408 188.4,407.3 188.9,408 189.4,408.3 190,407.4 190.5,409 191,407 191.6,408.3 192.1,408.2 192.6,407 193.1,407.5 193.7,407.9 194.2,408.2 194.7,408.2 195.3,408.6 195.8,409.7 196.3,407.3 196.8,408.7 197.4,408.4 197.9,410.9 198.4,409.6 199,411.7 199.5,409.7 200,409 200.5,408 201.1,408.2 201.6,408.1 202.1,409.3 202.7,409.5 203.2,409.4 203.7,409 204.2,409.9 204.8,408.6 205.3,407.3 205.8,407.7 206.4,406.7 206.9,409.4 207.4,410.3 207.9,408 208.5,409 209,409.6 209.5,408.9 210.1,408.6 210.6,407.8 211.1,409.7 211.6,410.6 212.2,410.4 212.7,409.4 213.2,407.9 213.8,410.2 214.3,408.6 214.8,409.3 215.3,409.3 215.9,408.7 216.4,408.7 216.9,409.6 217.5,408.7 218,409.5 218.5,407.9 219,410.3 219.6,408 220.1,410.1 220.6,410.5 221.2,409.6 221.7,408.9 222.2,409.2 222.7,409.5 223.3,409.1 223.8,409.5 224.3,409.6 224.9,407.4 225.4,408.4 225.9,408.5 226.4,407.9 227,410.4 227.5,409.9 228,408.7 228.6,409.2 229.1,408.5 229.6,409.4 230.2,409.6 230.7,409.5 231.2,409.1 231.7,409.9 232.3,408.7 232.8,408.6 233.3,409.3 233.9,410.7 234.4,410.8 234.9,409.5 235.4,410 236,409.2 236.5,409.2 237,409.3 237.6,409.3 238.1,408.9 238.6,408.8 239.1,406.3 239.7,407.6 240.2,408.3 240.7,410.1 241.3,409.7 241.8,409.3 242.3,407.6 242.8,407.2 243.4,407.2 243.9,407.9 244.4,406.7 245,406.6 245.5,406.6 246,406.6 246.5,405.1 247.1,406.3 247.6,406.1 248.1,406.2 248.7,408.1 249.2,406.1 249.7,409.2 250.2,405.4 250.8,409.2 251.3,408.7 251.8,409.6 252.4,412.8 252.9,409.4 253.4,412.8 253.9,411 254.5,411 255,410.3 255.5,413.3 256.1,411.3 256.6,410.4 257.1,408.4 257.6,406.3 258.2,405.1 258.7,404.7 259.2,406 259.8,405.8 260.3,403.1 260.8,402.4 261.3,402.2 261.9,402.1 262.4,400 262.9,399.3 263.5,398.9 264,399.3 264.5,399.4 265,399.2 265.6,399.5 266.1,396.9 266.6,399.2 267.2,398.8 267.7,398.7 268.2,398.6 268.7,395.1 269.3,397.2 269.8,397 270.3,396.9 270.9,397.7 271.4,397 271.9,398.1 272.5,397.4 273,397.7 273.5,396 274,397.2 274.6,397.6 275.1,394.8 275.6,396.5 276.2,396 276.7,395.8 277.2,395.9 277.7,395.6 278.3,395.1 278.8,394.9 279.3,394.8 279.9,394.3 280.4,394.8 280.9,393.4 281.4,394.8 282,395.1 282.5,394.7 283,396.4 283.6,395.8 284.1,393.5 284.6,395.2 285.1,393.5 285.7,393.3 286.2,393.1 286.7,393.1 287.3,395.3 287.8,395.7 288.3,395 288.8,395.1 289.4,394.4 289.9,394.6 290.4,396.3 291,395.6 291.5,394.4 292,395.7 292.5,394.9 293.1,394.7 293.6,392.7 294.1,393.6 294.7,393 295.2,391.9 295.7,394.1 296.2,394.3 296.8,395.3 297.3,393.7 297.8,393.9 298.4,393 298.9,392.9 299.4,394.9 299.9,393.3 300.5,393.7 301,394.8 301.5,393.4 302.1,393.4 302.6,394.9 303.1,392.3 303.6,394.1 304.2,394.3 304.7,393.9 305.2,394.8 305.8,392.7 306.3,392.1 306.8,393.7 307.3,394.5 307.9,394 308.4,394.1 308.9,394.6 309.5,394.1 310,394.4 310.5,393.2 311,394.5 311.6,394.1 312.1,393.7 312.6,395.3 313.2,395.6 313.7,393.6 314.2,395.2 314.8,394.5 315.3,393.8 315.8,393.1 316.3,394.2 316.9,394.7 317.4,393.6 317.9,395 318.5,394.2 319,393.4 319.5,392.9 320,393.3 320.6,393.4 321.1,393.1 321.6,392.9 322.2,393.6 322.7,391.9 323.2,392.5 323.7,393 324.3,393.4 324.8,394.1 325.3,393.3 325.9,392.3 326.4,392.7 326.9,392.1 327.4,393.6 328,393 328.5,394.7 329,395.2 329.6,392.7 330.1,392.9 330.6,392.1 331.1,390.6 331.7,391.5 332.2,394.6 332.7,393.5 333.3,394.7 333.8,392.5 334.3,393.9 334.8,395.5 335.4,393.1 335.9,393.8 336.4,392.7 337,393.4 337.5,394 338,391.9 338.5,392.2 339.1,392.7 339.6,392.3 340.1,392.7 340.7,392.1 341.2,391.1 341.7,394 342.2,392.9 342.8,393.3 343.3,391.9 343.8,392.5 344.4,393 344.9,393.2 345.4,394.5 345.9,394.8 346.5,393.4 347,393.5 347.5,391.6 348.1,392.2 348.6,393.7 349.1,394 349.6,394 350.2,391.5 350.7,392.5 351.2,394.5 351.8,393.2 352.3,393.5 352.8,392.9 353.3,390.2 353.9,390.5 354.4,391.1 354.9,392.2 355.5,392.7 356,391.1 356.5,390.6 357.1,390.6 357.6,392.5 358.1,392.5 358.6,392 359.2,392.7 359.7,394.9 360.2,391.6 360.8,390.9 361.3,393.8 361.8,391.1 362.3,391.8 362.9,390.1 363.4,391.5 363.9,391.6 364.5,392.1 365,390.8 365.5,392.8 366,392.1 366.6,392.3 367.1,393.7 367.6,393.2 368.2,396.4 368.7,393.6 369.2,393.5 369.7,392.8 370.3,392.8 370.8,391.2 371.3,391.5 371.9,391.3 372.4,391.1 372.9,390.7 373.4,391.6 374,392 374.5,392.8 375,393.3 375.6,393 376.1,392.3 376.6,391.9 377.1,391.6 377.7,392.2 378.2,390.8 378.7,391.5 379.3,390.7 379.8,393.4 380.3,391.6 380.8,392.8 381.4,390.9 381.9,392.4 382.4,390.5 383,392.9 383.5,390.8 384,392.2 384.5,390.7 385.1,391.7 385.6,393.2 386.1,391.2 386.7,391.8 387.2,392.5 387.7,394.7 388.2,392.2 388.8,391.6 389.3,392.1 389.8,390.8 390.4,391.3 390.9,390.5 391.4,391.6 391.9,392.5 392.5,393.9 393,391.9 393.5,393.3 394.1,392.1 394.6,393.1 395.1,390 395.6,391 396.2,392.8 396.7,392.5 397.2,391.9 397.8,390 398.3,391.2 398.8,392.2 399.4,394.7 399.9,393.4 400.4,393 400.9,392.9 401.5,393.6 402,393.6 402.5,392 403.1,393.6 403.6,390.5 404.1,393.2 404.6,393.5 405.2,392.4 405.7,391.9 406.2,392.9 406.8,392.2 407.3,393 407.8,393.8 408.3,392.1 408.9,392.2 409.4,394.1 409.9,393.3 410.5,393 411,392.7 411.5,391.4 412,393.2 412.6,391.8 413.1,393.8 413.6,392.4 414.2,392.4 414.7,392.7 415.2,393.1 415.7,392.9 416.3,393 416.8,394.4 417.3,392.6 417.9,393.5 418.4,392 418.9,392.8 419.4,393.1 420,391.3 420.5,391.7 421,393.6 421.6,392.7 422.1,393.6 422.6,392.6 423.1,391.6 423.7,392.2 424.2,392.3 424.7,392.7 425.3,392.1 425.8,394.2 426.3,391.7 426.8,393.6 427.4,394.9 427.9,392.3 428.4,390.9 429,391.3 429.5,393 430,393.8 430.5,393.5 431.1,392.5 431.6,393.3 432.1,393.9 432.7,393.1 433.2,391.5 433.7,393.4 434.2,393.6 434.8,393.3 435.3,395.4 435.8,393.3 436.4,393.2 436.9,393.9 437.4,392.6 437.9,393.2 438.5,393.7 439,392.2 439.5,394.4 440.1,394.5 440.6,393.6 441.1,393.8 441.7,395 442.2,394.5 442.7,393.7 443.2,394.9 443.8,395.6 444.3,394.3 444.8,394.9 445.4,394.5 445.9,394.5 446.4,394.6 446.9,393.5 447.5,395.5 448,393.8 448.5,393.1 449.1,394.1 449.6,394 450.1,393.1 450.6,393.4 451.2,393.2 451.7,392.4 452.2,394.7 452.2,410.7 451.7,408.4 451.2,408.8 450.6,409.5 450.1,409.8 449.6,410.5 449.1,410.7 448.5,410.1 448,410.3 447.5,410.7 446.9,410.4 446.4,411.6 445.9,409.9 445.4,410.3 444.8,411.4 444.3,409.7 443.8,411.6 443.2,411.1 442.7,410.8 442.2,410.3 441.7,411.1 441.1,410.6 440.6,409.2 440.1,410.2 439.5,410.2 439,408.4 438.5,409.7 437.9,408.4 437.4,409.9 436.9,411.1 436.4,410.7 435.8,409.5 435.3,409.4 434.8,410.5 434.2,411 433.7,409 433.2,408.8 432.7,409.9 432.1,410.6 431.6,410.7 431.1,409.6 430.5,409.4 430,410.5 429.5,409.8 429,411 428.4,410.2 427.9,409.3 427.4,409.1 426.8,409.2 426.3,410 425.8,410.9 425.3,408.5 424.7,408.6 424.2,409.3 423.7,408.6 423.1,409.3 422.6,408.7 422.1,408.1 421.6,409.9 421,407.7 420.5,408.4 420,410.3 419.4,409.6 418.9,409 418.4,409.4 417.9,409.7 417.3,410.1 416.8,410.5 416.3,409.2 415.7,409.6 415.2,410.5 414.7,410.6 414.2,408.8 413.6,408.4 413.1,410.6 412.6,409.6 412,410.5 411.5,409.5 411,410.5 410.5,407.8 409.9,408.7 409.4,409.5 408.9,407.7 408.3,409.6 407.8,411.1 407.3,410.4 406.8,410.5 406.2,409.9 405.7,409.6 405.2,408.5 404.6,410.6 404.1,409.3 403.6,408.1 403.1,409.7 402.5,409.8 402,411.5 401.5,409.1 400.9,410 400.4,410.7 399.9,410.6 399.4,409.3 398.8,409.5 398.3,408.5 397.8,406.5 397.2,409.1 396.7,408.6 396.2,409.7 395.6,407.8 395.1,408.8 394.6,410.3 394.1,410.5 393.5,409.3 393,409 392.5,410.1 391.9,408.3 391.4,409 390.9,408.9 390.4,408.7 389.8,409.9 389.3,410 388.8,409 388.2,407.9 387.7,411.5 387.2,409.5 386.7,408.6 386.1,410.6 385.6,410.5 385.1,410.1 384.5,409.4 384,409.1 383.5,409.5 383,410.2 382.4,408.8 381.9,410.9 381.4,409.5 380.8,409.7 380.3,409.7 379.8,411.1 379.3,410.6 378.7,409 378.2,410 377.7,409.9 377.1,409.9 376.6,410.9 376.1,411.5 375.6,409.8 375,408.5 374.5,410.4 374,409.5 373.4,409.4 372.9,408 372.4,410.1 371.9,408.4 371.3,409.3 370.8,408.8 370.3,410 369.7,411.5 369.2,410.1 368.7,410.4 368.2,411.5 367.6,410.2 367.1,409.8 366.6,409.8 366,409.1 365.5,409.7 365,409.5 364.5,409.9 363.9,409.3 363.4,409.1 362.9,408.9 362.3,408.8 361.8,409.4 361.3,410.7 360.8,410.1 360.2,408.6 359.7,412.3 359.2,410.3 358.6,410.1 358.1,409.1 357.6,409.3 357.1,408.3 356.5,410.1 356,410.7 355.5,411.1 354.9,409.7 354.4,408 353.9,410.2 353.3,412 352.8,410 352.3,411.1 351.8,411.8 351.2,411.6 350.7,409.3 350.2,409.5 349.6,411.7 349.1,411 348.6,411.5 348.1,411.1 347.5,411.6 347,411 346.5,411.4 345.9,411.7 345.4,412.2 344.9,413.1 344.4,411 343.8,410.8 343.3,411.3 342.8,411.3 342.2,411.3 341.7,411.9 341.2,410.2 340.7,411.1 340.1,410.4 339.6,409.7 339.1,409.9 338.5,409 338,410 337.5,409.7 337,409.9 336.4,409.7 335.9,410.6 335.4,412.5 334.8,411.7 334.3,411.3 333.8,413.2 333.3,412.5 332.7,411 332.2,412.1 331.7,411 331.1,409 330.6,411.4 330.1,410.9 329.6,410.1 329,412.4 328.5,411.7 328,412 327.4,411.6 326.9,410.6 326.4,409.9 325.9,409.1 325.3,410.5 324.8,412.4 324.3,409.1 323.7,409.9 323.2,410.7 322.7,409.6 322.2,410.7 321.6,410.6 321.1,411.5 320.6,412.2 320,411.8 319.5,411.3 319,411.7 318.5,411.9 317.9,413.1 317.4,410.2 316.9,410.3 316.3,411.2 315.8,411.3 315.3,411.8 314.8,413.4 314.2,412.1 313.7,411.9 313.2,413 312.6,412.7 312.1,413 311.6,413.6 311,412.5 310.5,411.7 310,412 309.5,411.5 308.9,411.5 308.4,411.6 307.9,412.1 307.3,412.9 306.8,412.2 306.3,409.7 305.8,410.6 305.2,412.7 304.7,410.2 304.2,413.1 303.6,412.5 303.1,412.1 302.6,414 302.1,412.5 301.5,410.6 301,412.3 300.5,410.8 299.9,412 299.4,411.1 298.9,409.4 298.4,409.9 297.8,411.4 297.3,413.4 296.8,411.2 296.2,412.7 295.7,412.1 295.2,410.9 294.7,412.2 294.1,412.5 293.6,411.9 293.1,413.1 292.5,411.6 292,411.6 291.5,412 291,413.9 290.4,413.4 289.9,413 289.4,413.6 288.8,414.5 288.3,410.3 287.8,412.1 287.3,411.7 286.7,410.8 286.2,410.8 285.7,411.2 285.1,412.5 284.6,413 284.1,411.8 283.6,411.4 283,413.3 282.5,413.6 282,414.1 281.4,411.4 280.9,411.3 280.4,412 279.9,410.8 279.3,412.1 278.8,412.5 278.3,413.8 277.7,413.3 277.2,414.1 276.7,413.4 276.2,413.6 275.6,412 275.1,414 274.6,415.2 274,415.1 273.5,413.4 273,415.8 272.5,416.7 271.9,413.8 271.4,415.9 270.9,416 270.3,414.9 269.8,414.7 269.3,415.7 268.7,412.9 268.2,414.5 267.7,415.7 267.2,415.3 266.6,416.5 266.1,414.5 265.6,416.7 265,417.4 264.5,416.6 264,418.1 263.5,418.3 262.9,417.1 262.4,419.4 261.9,418.6 261.3,420.7 260.8,421.3 260.3,421.3 259.8,421.6 259.2,420.8 258.7,422.3 258.2,424 257.6,424.5 257.1,423.6 256.6,426.3 256.1,427.4 255.5,429 255,427.8 254.5,428.1 253.9,428 253.4,428.9 252.9,425.7 252.4,427.6 251.8,424 251.3,423.4 250.8,424 250.2,423.6 249.7,424.9 249.2,422.8 248.7,419.8 248.1,419.5 247.6,419.9 247.1,420.6 246.5,422.2 246,422.7 245.5,421 245,420.7 244.4,421.3 243.9,421.9 243.4,423.4 242.8,422 242.3,420.8 241.8,423.4 241.3,423.8 240.7,424.1 240.2,422.5 239.7,421.6 239.1,421.5 238.6,422.6 238.1,423.6 237.6,422.4 237,423.6 236.5,423.7 236,423.1 235.4,422.7 234.9,423.3 234.4,424.2 233.9,424.8 233.3,424.2 232.8,423 232.3,420.2 231.7,422 231.2,422.3 230.7,422 230.2,422.6 229.6,423.1 229.1,422.6 228.6,422.5 228,422.7 227.5,424.1 227,424.8 226.4,422.3 225.9,424 225.4,422.9 224.9,421 224.3,422.7 223.8,424.6 223.3,424.1 222.7,422.3 222.2,424.1 221.7,422.6 221.2,423.2 220.6,423.9 220.1,424.5 219.6,423.2 219,422.8 218.5,423.3 218,423.2 217.5,422.5 216.9,422.8 216.4,422.2 215.9,421.6 215.3,422.4 214.8,423.1 214.3,423.4 213.8,422.9 213.2,423 212.7,424.1 212.2,422.9 211.6,423.2 211.1,424.5 210.6,420.7 210.1,423.3 209.5,422.2 209,422.1 208.5,423.8 207.9,420.4 207.4,423.2 206.9,422 206.4,423.9 205.8,422.7 205.3,422 204.8,423.1 204.2,422.7 203.7,422.8 203.2,424.2 202.7,422.4 202.1,422.2 201.6,422.8 201.1,421.9 200.5,422.6 200,424.6 199.5,425.3 199,424.6 198.4,423.9 197.9,422 197.4,423 196.8,423.7 196.3,422.7 195.8,422.4 195.3,422.5 194.7,423.8 194.2,423.3 193.7,422.1 193.1,421.6 192.6,420.6 192.1,421.6 191.6,422.6 191,422.4 190.5,421.8 190,421.6 189.4,421.5 188.9,423.2 188.4,423.1 187.9,422.9 187.3,420.9 186.8,422.6 186.3,421.9 185.7,422.1 185.2,422.9 184.7,422.1 184.1,421.1 183.6,422.1 183.1,421.5 182.6,421.4 182,421.1 181.5,421.5 181,421.5 180.4,420.3 179.9,421.6 179.4,422 178.9,421.2 178.3,421.4 177.8,420 177.3,423.7 176.7,422.9 176.2,420.1 175.7,420.9 175.2,420.5 174.6,422.4 174.1,422.8 173.6,420.7 173,421.7 172.5,422.8 172,420.6 171.5,421.6 170.9,421 170.4,421.7 169.9,420.9 169.3,422.1 168.8,421.3 168.3,423.5 167.8,423.5 167.2,423.9 166.7,421.7 166.2,424.3 165.6,422.9 165.1,422.8 164.6,420.5 164.1,420.5 163.5,421.7 163,420.6 162.5,420.8 161.9,421.2 161.4,422.7 160.9,422.2 160.4,422.2 159.8,423.3 159.3,423 158.8,424.1 158.2,421.9 157.7,424 157.2,422.8 156.7,422.6 156.1,423.9 155.6,421.9 155.1,421.7 154.5,420.6 154,421.8 153.5,421.4 153,421.5 152.4,422.8 151.9,422.5 151.4,421.9 150.8,421.2 150.3,422.5 149.8,422.4 149.3,421 148.7,420.9 148.2,420.4 147.7,420.5 147.1,418.8 146.6,420.7 146.1,420.1 145.6,419.7 145,418.7 144.5,421.9 144,421 143.4,420.7 142.9,420 142.4,419.7 141.8,421.2 141.3,421.2 140.8,423.1 140.3,420.8 139.7,420 139.2,421.4 138.7,422.4 138.1,421.4 137.6,421.3 137.1,423 136.6,420.9 136,419.7 135.5,419.2 135,421.2 134.4,419.4 133.9,421.3 133.4,423.1 132.9,421.2 132.3,421 131.8,419.4 131.3,421.3 130.7,419 130.2,419.7 129.7,419.1 129.2,420.6 128.6,419.8 128.1,420.7 127.6,419.1 127,420.7 126.5,419 126,418.8 125.5,420.6 124.9,419.4 124.4,419.8 123.9,420.4 123.3,419.7 122.8,420.6 122.3,420 121.8,422.3 121.2,422.1 120.7,421.2 120.2,420.8 119.6,420.3 119.1,420.4 118.6,420.8 118.1,419.7 117.5,418.6 117,418.1 116.5,418.8 115.9,419.4 115.4,420.3 114.9,420.1 114.4,420.2 113.8,420.3 113.3,420.9 112.8,417.5 112.2,418.7 111.7,420.5 111.2,418.2 110.7,418.5 110.1,420.4 109.6,418.7 109.1,419 108.5,418.9 108,417.5 107.5,418.5 107,418.5 106.4,419.8 105.9,416.7 105.4,417.1 104.8,417.9 104.3,418.2 103.8,417.3 103.2,416.7 102.7,417.7 102.2,419.4 101.7,418.4 101.1,418.1 100.6,418.1 100.1,417.3 99.5,418.1 99,419.2 98.5,418.7 98,417.6 97.4,416.7 96.9,416.1 96.4,416.9 95.8,417.8 95.3,416.9 94.8,416.5 94.3,415.9 93.7,416.3 93.2,417.2 92.7,415.4 92.1,416.5 91.6,416.5 91.1,417.6 90.6,417.5 90,417.3 89.5,415.6 89,415.9 88.4,417.2 87.9,418.1 87.4,416.6 86.9,416.6 86.3,416.9 85.8,413.9 85.3,416.1 84.7,416.3 84.2,416.9 83.7,415.1 83.2,415.6 82.6,415.2 82.1,416.8 81.6,416.9 81,416.3 80.5,415.6 80,415.4 79.5,416.8 78.9,416.3 78.4,416.4 77.9,415.6 77.3,415.8 76.8,415.6 76.3,414.7 75.8,415.1 75.2,414.6 74.7,413.9 74.2,414.2 73.6,413.6 73.1,414.6 72.6,414.2 72.1,414.1 71.5,414 71,413.2 70.5,413.2 69.9,413 69.4,414.1 68.9,415 68.4,414.6 67.8,413.9 67.3,416.1 66.8,414.6 66.2,414.1 65.7,414.3 65.2,413.1 64.7,413.4 64.1,411.3 63.6,413.6 63.1,413.5 62.5,413.4 62,413.5 61.5,413 61,413.7 60.4,413.7 59.9,415.2 59.4,414.2 58.8,414 58.3,414 57.8,414.8 57.2,415.2 56.7,413.2 56.2,413.8 55.7,414.3 55.1,414.3 54.6,413.8 54.1,413.1 53.5,413.8 53,414.4 52.5,414.4 52,414 51.4,414 50.9,414 50.4,415.3 49.8,413.6 49.3,415.3 48.8,415.4 48.3,414.1 47.7,414.4 47.2,416.2 46.7,418 46.1,417.3 45.6,417.2 45.1,418.4 44.6,417.5 44,418.2 43.5,420 43,419.9 42.4,414.4 41.9,410.5 41.4,397.9 40.9,369.5 40.3,339.3 39.8,323.8 39.3,324.5 38.7,324.8 38.2,321.6 37.7,321.9 37.2,322.6 36.6,321.8 36.1,324.6 35.6,322.5 35,320.5 34.5,321.9 34,322.1 33.5,322.6 32.9,321.8 32.4,322.1 31.9,322.3 31.3,322.2 30.8,321 30.3,321.8 29.8,321.1 29.2,321.7Z" fill="#e4e4e4"/>
<rect x="39.8" y="317.6" width="3.2" height="112.6" fill="#8080ff"/>
<rect x="251.3" y="317.6" width="3.2" height="112.6" fill="#8080ff"/>
<path d="M29.2,321.9L29.8,322.1 30.3,322.1 30.8,322.2 31.3,322.2 31.9,322.1 32.4,321.9 32.9,322 33.5,322.2 34,322.3 34.5,322.2 35,322.2 35.6,322.7 36.1,322.5 36.6,322.3 37.2,322.5 37.7,322.1 38.2,322.4 38.7,322.5 39.3,322.5 39.8,322.7 40.3,336.7 40.9,366.8 41.4,393.4 41.9,404.1 42.4,408.2 43,411.3 43.5,412.6 44,411.6 44.6,410.7 45.1,410.9 45.6,410 46.1,409.4 46.7,409.7 47.2,408.5 47.7,408.7 48.3,407.7 48.8,407.7 49.3,407.6 49.8,406.7 50.4,407 50.9,406.4 51.4,406.5 52,406.1 52.5,407 53,406.8 53.5,406.7 54.1,406.9 54.6,406.5 55.1,407.3 55.7,406.6 56.2,405.8 56.7,406.5 57.2,406.8 57.8,406.9 58.3,406.3 58.8,406.3 59.4,407.2 59.9,406.8 60.4,406.5 61,406.8 61.5,406.3 62,406 62.5,405.5 63.1,406.5 63.6,406.2 64.1,406.1 64.7,407.1 65.2,407.4 65.7,406.9 66.2,407.6 66.8,407.7 67.3,407.9 67.8,407.4 68.4,407.4 68.9,407.5 69.4,407.2 69.9,406.6 70.5,406.7 71,407.5 71.5,407.1 72.1,408 72.6,407.2 73.1,407.8 73.6,408.5 74.2,408.3 74.7,407.8 75.2,407.9 75.8,408.7 76.3,408.8 76.8,409.5 77.3,409.3 77.9,409.8 78.4,409.7 78.9,409.5 79.5,410.3 80,409.7 80.5,409.5 81,409.8 81.6,409.5 82.1,409.5 82.6,409.3 83.2,409.1 83.7,409.4 84.2,410.2 84.7,409.5 85.3,409.3 85.8,409.1 86.3,410.7 86.9,409.9 87.4,409.8 87.9,409.2 88.4,409.2 89,409.1 89.5,409.3 90,409.7 90.6,409.5 91.1,410 91.6,410.5 92.1,410.1 92.7,410.2 93.2,410.8 93.7,410.2 94.3,409.7 94.8,409.8 95.3,409.7 95.8,410.2 96.4,410.1 96.9,410 97.4,411.2 98,410.9 98.5,411.1 99,411.2 99.5,410.7 100.1,410.9 100.6,411.6 101.1,412 101.7,410.8 102.2,411.7 102.7,411.1 103.2,410.4 103.8,411 104.3,410.9 104.8,411.3 105.4,410.9 105.9,410.3 106.4,411.5 107,411.6 107.5,411.4 108,411.4 108.5,412.1 109.1,412.5 109.6,412.3 110.1,413 110.7,412.1 111.2,412.3 111.7,412.5 112.2,413.1 112.8,412.3 113.3,413.7 113.8,412.9 114.4,413 114.9,412.4 115.4,413.4 115.9,412.3 116.5,412.6 117,412.2 117.5,412.8 118.1,413 118.6,413.1 119.1,413.8 119.6,413.7 120.2,413 120.7,414.3 121.2,414 121.8,414.8 122.3,413.5 122.8,414.5 123.3,414.2 123.9,413.7 124.4,413 124.9,413.8 125.5,413.5 126,413.3 126.5,413.4 127,413.8 127.6,413.2 128.1,412.9 128.6,412.2 129.2,412.5 129.7,413.8 130.2,412.7 130.7,413.1 131.3,413.6 131.8,413.5 132.3,413.4 132.9,414 133.4,414.2 133.9,413.5 134.4,413.3 135,413.9 135.5,414.1 136,414.7 136.6,414 137.1,415 137.6,414.2 138.1,414.4 138.7,413.6 139.2,413.7 139.7,412.9 140.3,414 140.8,414.4 141.3,414.2 141.8,414.7 142.4,414.3 142.9,413.9 143.4,414.5 144,414.1 144.5,414.2 145,413.9 145.6,413.5 146.1,413.1 146.6,413 147.1,412.6 147.7,413.4 148.2,414 148.7,414.3 149.3,414.1 149.8,414.7 150.3,414.9 150.8,415.4 151.4,414.4 151.9,414.7 152.4,415 153,414.4 153.5,414.8 154,415.2 154.5,415 155.1,414.9 155.6,416.1 156.1,415.8 156.7,415.8 157.2,414.9 157.7,415.7 158.2,415.4 158.8,416 159.3,416.1 159.8,415.3 160.4,415.2 160.9,415.3 161.4,414 161.9,414.7 162.5,413.7 163,413.8 163.5,414.1 164.1,414.5 164.6,414.7 165.1,416.2 165.6,415 166.2,415.7 166.7,415.7 167.2,417.6 167.8,415.9 168.3,415.9 168.8,416.4 169.3,414.6 169.9,414.8 170.4,415.5 170.9,415.2 171.5,414.6 172,414.1 172.5,415.1 173,415.2 173.6,414 174.1,415.4 174.6,414.6 175.2,414.6 175.7,414.8 176.2,415.5 176.7,415.7 177.3,415.4 177.8,415 178.3,415.8 178.9,416.1 179.4,415 179.9,415 180.4,415 181,414.2 181.5,414.5 182,414.1 182.6,415.1 183.1,415.5 183.6,415.4 184.1,415.2 184.7,415.4 185.2,415.5 185.7,415.2 186.3,415.5 186.8,415.5 187.3,414.5 187.9,415.3 188.4,415.4 188.9,415.3 189.4,415.2 190,414.8 190.5,415.2 191,414.1 191.6,415.1 192.1,415 192.6,414.8 193.1,415.6 193.7,415.1 194.2,415.9 194.7,415.5 195.3,415 195.8,416.3 196.3,415.4 196.8,416.3 197.4,416.4 197.9,417 198.4,416.8 199,417 199.5,417.3 200,416 200.5,415.8 201.1,415.3 201.6,415.7 202.1,416 202.7,416.5 203.2,416.7 203.7,415.9 204.2,416.3 204.8,415.3 205.3,415.1 205.8,415.6 206.4,415.3 206.9,416.6 207.4,417 207.9,415.3 208.5,416.5 209,415.5 209.5,416.5 210.1,415.8 210.6,415.5 211.1,417 211.6,417.1 212.2,416.8 212.7,416.3 213.2,416 213.8,415.9 214.3,415.6 214.8,415.8 215.3,415.9 215.9,415.4 216.4,415.7 216.9,416.6 217.5,416.7 218,416.5 218.5,416.7 219,416.1 219.6,416.3 220.1,416.7 220.6,416.7 221.2,416.2 221.7,416.1 222.2,416.5 222.7,416.2 223.3,416.7 223.8,416.4 224.3,416.7 224.9,414.6 225.4,415.8 225.9,415.7 226.4,415.5 227,416.6 227.5,415.8 228,415.1 228.6,415.5 229.1,415.2 229.6,415.8 230.2,415.1 230.7,415.5 231.2,415.2 231.7,415.3 232.3,415 232.8,415.8 233.3,416.1 233.9,416.6 234.4,416.7 234.9,416.2 235.4,416.5 236,417.2 236.5,416.3 237,416 237.6,415.6 238.1,416 238.6,415.8 239.1,415.3 239.7,415.5 240.2,415.3 240.7,416.7 241.3,416.1 241.8,415.8 242.3,414.7 242.8,414.6 243.4,415.2 243.9,415.2 244.4,414.7 245,414.2 245.5,414 246,414.7 246.5,413.5 247.1,413.5 247.6,412.8 248.1,412.8 248.7,413.8 249.2,413.8 249.7,415.7 250.2,414.7 250.8,416.2 251.3,416.2 251.8,416.8 252.4,418.9 252.9,418.2 253.4,420.3 253.9,420 254.5,420.5 255,419.6 255.5,419.6 256.1,418.3 256.6,417.8 257.1,415.5 257.6,414.7 258.2,414.4 258.7,413.5 259.2,413.3 259.8,412.9 260.3,411.9 260.8,411.5 261.3,410.7 261.9,410.1 262.4,409.8 262.9,409.5 263.5,409 264,408.9 264.5,407.8 265,408.2 265.6,407.6 266.1,406.9 266.6,407.2 267.2,406.7 267.7,407.2 268.2,406.9 268.7,405 269.3,407.1 269.8,405.9 270.3,406.3 270.9,406.3 271.4,406.5 271.9,405.4 272.5,405.7 273,405.4 273.5,404.7 274,406.5 274.6,406.2 275.1,405.2 275.6,404.7 276.2,405.4 276.7,404.2 277.2,403.7 277.7,404.1 278.3,404 278.8,403.4 279.3,402.8 279.9,403 280.4,403.1 280.9,403 281.4,403.7 282,403.4 282.5,403.7 283,403.1 283.6,403.7 284.1,403.3 284.6,403.8 285.1,403.7 285.7,402.7 286.2,402.4 286.7,401.9 287.3,403.6 287.8,403.4 288.3,402.7 288.8,404.4 289.4,403.7 289.9,404.1 290.4,404.5 291,404.1 291.5,403.5 292,403.3 292.5,403.4 293.1,403.5 293.6,403.2 294.1,403.4 294.7,403.5 295.2,402.8 295.7,403 296.2,403.5 296.8,403.5 297.3,403.8 297.8,403 298.4,402.2 298.9,402 299.4,402.6 299.9,402.6 300.5,402.5 301,403 301.5,401.8 302.1,402.9 302.6,403.5 303.1,402.3 303.6,403.6 304.2,403.2 304.7,402.8 305.2,403.8 305.8,403.2 306.3,401.5 306.8,402.7 307.3,403.6 307.9,402.9 308.4,402.9 308.9,402.6 309.5,403.1 310,403.5 310.5,403.1 311,403 311.6,403.2 312.1,403.7 312.6,403.1 313.2,403.9 313.7,402.2 314.2,402.7 314.8,403.2 315.3,403.1 315.8,402.8 316.3,403.3 316.9,403.9 317.4,402.4 317.9,404 318.5,403 319,402.3 319.5,402.2 320,402.8 320.6,403.1 321.1,402.6 321.6,402.3 322.2,402.5 322.7,401.8 323.2,402.4 323.7,401.4 324.3,402.1 324.8,402.5 325.3,402 325.9,400.9 326.4,402 326.9,401.4 327.4,402.3 328,401.9 328.5,402.8 329,402.7 329.6,402.4 330.1,402.3 330.6,401.8 331.1,401.2 331.7,401.4 332.2,401.8 332.7,401.7 333.3,402.9 333.8,402.1 334.3,401.4 334.8,403.2 335.4,402.2 335.9,401.6 336.4,401.4 337,401.4 337.5,401.7 338,401.1 338.5,401 339.1,401.3 339.6,401 340.1,401.8 340.7,401.4 341.2,400.2 341.7,401.7 342.2,401.4 342.8,402 343.3,401.9 343.8,402.7 344.4,402.4 344.9,402.7 345.4,402.8 345.9,403.1 346.5,402 347,402.4 347.5,401.8 348.1,402.1 348.6,402 349.1,402.2 349.6,402.7 350.2,402.2 350.7,401.6 351.2,402.7 351.8,402.5 352.3,401.7 352.8,400.6 353.3,401.2 353.9,401.5 354.4,399.9 354.9,400.7 355.5,401 356,400.7 356.5,400.4 357.1,401 357.6,400.9 358.1,401.1 358.6,401.1 359.2,401.5 359.7,402.8 360.2,400.8 360.8,400.7 361.3,401.2 361.8,401.3 362.3,400.9 362.9,400 363.4,401 363.9,400.9 364.5,401.4 365,399.7 365.5,401.2 366,401 366.6,401.6 367.1,401.4 367.6,401.4 368.2,403.3 368.7,401.1 369.2,401.7 369.7,402.1 370.3,401.4 370.8,400 371.3,400.2 371.9,399.5 372.4,400.7 372.9,399.8 373.4,399.6 374,400.9 374.5,402 375,401.5 375.6,401.5 376.1,401.8 376.6,401 377.1,401.4 377.7,401.5 378.2,400.6 378.7,401.2 379.3,401.1 379.8,401.7 380.3,400.8 380.8,401.5 381.4,401.1 381.9,402.2 382.4,400.8 383,401.5 383.5,400.7 384,401.5 384.5,401.2 385.1,400.7 385.6,402.1 386.1,401.1 386.7,400.8 387.2,401.2 387.7,402.3 388.2,401 388.8,401.1 389.3,401 389.8,400.8 390.4,400.1 390.9,399.8 391.4,400.9 391.9,400.7 392.5,401.4 393,400 393.5,401.6 394.1,401.4 394.6,400.7 395.1,400 395.6,399.9 396.2,401.3 396.7,400.5 397.2,400.6 397.8,399.6 398.3,401.1 398.8,401.6 399.4,401.8 399.9,401.4 400.4,401.3 400.9,401.2 401.5,401.2 402,401.9 402.5,401.6 403.1,401.3 403.6,399.9 404.1,401.1 404.6,401.3 405.2,400.9 405.7,401.2 406.2,402.3 406.8,401.6 407.3,401.4 407.8,401.5 408.3,402 408.9,401.1 409.4,401.1 409.9,400.9 410.5,401.2 411,401.6 411.5,401.1 412,400.9 412.6,401.2 413.1,402.2 413.6,400.9 414.2,401 414.7,401.2 415.2,401.5 415.7,401.6 416.3,401.8 416.8,402.2 417.3,402.3 417.9,401.7 418.4,400.8 418.9,400.5 419.4,400.8 420,400.7 420.5,400.4 421,400.5 421.6,401.4 422.1,401 422.6,401.4 423.1,400.7 423.7,400.5 424.2,400.8 424.7,401 425.3,400.6 425.8,402.1 426.3,400.4 426.8,401.1 427.4,401.5 427.9,401.3 428.4,401.6 429,401.2 429.5,401.3 430,401.4 430.5,401 431.1,401.4 431.6,402.1 432.1,401.7 432.7,401.9 433.2,401.2 433.7,402 434.2,402.1 434.8,401.1 435.3,402.3 435.8,402.2 436.4,402 436.9,402.9 437.4,401.7 437.9,401.2 438.5,401.4 439,400.8 439.5,401.6 440.1,401.1 440.6,401.4 441.1,401.5 441.7,402.4 442.2,402.5 442.7,401.9 443.2,402.3 443.8,401.9 444.3,401.5 444.8,402.1 445.4,402.3 445.9,402.3 446.4,403.1 446.9,403.2 447.5,403.1 448,402.7 448.5,401.3 449.1,402.4 449.6,401.9 450.1,401.8 450.6,401.8 451.2,402 451.7,401.9 452.2,401.7" fill="none" stroke="#000" stroke-width="1.45" stroke-linejoin="round"/>
<path d="M29,317.6V430.2H462.8" fill="none" stroke="#555" stroke-width="1"/>
<path d="M26,322.1H29" stroke="#555" stroke-width="0.8"/>
<text x="25" y="324.4" font-size="6.7" text-anchor="end" fill="#151515" >0</text>
<path d="M26,367.2H29" stroke="#555" stroke-width="0.8"/>
<text x="25" y="369.5" font-size="6.7" text-anchor="end" fill="#151515" >-100</text>
<path d="M26,412.2H29" stroke="#555" stroke-width="0.8"/>
<text x="25" y="414.5" font-size="6.7" text-anchor="end" fill="#151515" >-200</text>
<path d="M39.8,430.2V433.4" stroke="#555" stroke-width="0.8"/>
<text x="39.8" y="440.2" font-size="6.7" text-anchor="middle" fill="#151515" >0</text>
<path d="M92.7,430.2V433.4" stroke="#555" stroke-width="0.8"/>
<text x="92.7" y="440.2" font-size="6.7" text-anchor="middle" fill="#151515" >50</text>
<path d="M145.6,430.2V433.4" stroke="#555" stroke-width="0.8"/>
<text x="145.6" y="440.2" font-size="6.7" text-anchor="middle" fill="#151515" >100</text>
<path d="M198.4,430.2V433.4" stroke="#555" stroke-width="0.8"/>
<text x="198.4" y="440.2" font-size="6.7" text-anchor="middle" fill="#151515" >150</text>
<path d="M251.3,430.2V433.4" stroke="#555" stroke-width="0.8"/>
<text x="251.3" y="440.2" font-size="6.7" text-anchor="middle" fill="#151515" >200</text>
<path d="M304.2,430.2V433.4" stroke="#555" stroke-width="0.8"/>
<text x="304.2" y="440.2" font-size="6.7" text-anchor="middle" fill="#151515" >250</text>
<path d="M357.1,430.2V433.4" stroke="#555" stroke-width="0.8"/>
<text x="357.1" y="440.2" font-size="6.7" text-anchor="middle" fill="#151515" >300</text>
<path d="M409.9,430.2V433.4" stroke="#555" stroke-width="0.8"/>
<text x="409.9" y="440.2" font-size="6.7" text-anchor="middle" fill="#151515" >350</text>
<path d="M462.8,430.2V433.4" stroke="#555" stroke-width="0.8"/>
<text x="462.8" y="440.2" font-size="6.7" text-anchor="middle" fill="#151515" >400</text>
<text x="246.4" y="449" font-size="8.1" text-anchor="middle" fill="#151515" textLength="33.4" lengthAdjust="spacingAndGlyphs">Time (ms)</text>
<text x="47.4" y="320.2" font-size="6.6" fill="#222"><tspan fill="#0000ff">385 nm</tspan>, 336 μJ, 3 ms</text>
<text x="258.6" y="320.2" font-size="6.6" fill="#222"><tspan fill="#0000ff">385 nm</tspan>, 336 μJ, 3 ms</text>
<path d="M136,257.8H145.2" stroke="#d40000" stroke-width="2.4"/>
<path d="M145.5,257.9H150M153.8,257.9H158M161.8,257.9H166.1M170.2,257.9H174.2M178,257.9H182.2M186,257.9H188.4M192.8,257.9H202.5" stroke="#f01818" stroke-width="1.5"/>
<path d="M187.9,235.1H206.7" stroke="#d40000" stroke-width="2.4"/>
<path d="M197.5,237.1V255.9" stroke="#f01818" stroke-width="0.8"/>
<path d="M197.5,235.9l-1.8,2.8h3.6z" fill="#f01818"/>
<path d="M197.5,257.1l-1.8,-2.8h3.6z" fill="#f01818"/>
<circle cx="191.2" cy="246.9" r="4.3" fill="none" stroke="#f01818" stroke-width="1.1"/>
<text x="191.2" y="249.7" font-size="7.9" text-anchor="middle" fill="#f01818" >1</text>
<path d="M253.2,235.4H257.1M260,235.4H264.2M268,235.4H271.8M276.1,235.4H279.9M284.2,235.4H288M291.7,235.4H294.6M299.6,235.4H308.9" stroke="#f01818" stroke-width="1.5"/>
<path d="M294.9,249.7H313.7" stroke="#d40000" stroke-width="2.4"/>
<path d="M304.5,237.4V247.7" stroke="#f01818" stroke-width="0.8"/>
<path d="M304.5,236.2l-1.8,2.8h3.6z" fill="#f01818"/>
<path d="M304.5,248.9l-1.8,-2.8h3.6z" fill="#f01818"/>
<circle cx="297" cy="241.8" r="4.3" fill="none" stroke="#f01818" stroke-width="1.1"/>
<text x="297" y="244.6" font-size="7.9" text-anchor="middle" fill="#f01818" >2</text>
<path d="M356.9,249.4H358.8M363,249.4H368M371.4,249.4H376.3M379.7,249.4H384.3M388.1,249.4H390.3M392.5,249.4H399.1" stroke="#f01818" stroke-width="1.5"/>
<path d="M386.4,226.2H405.5" stroke="#d40000" stroke-width="2.4"/>
<path d="M396.8,228.2V247.4" stroke="#f01818" stroke-width="0.8"/>
<path d="M396.8,227l-1.8,2.8h3.6z" fill="#f01818"/>
<path d="M396.8,248.6l-1.8,-2.8h3.6z" fill="#f01818"/>
<circle cx="390.3" cy="239.3" r="4.2" fill="none" stroke="#f01818" stroke-width="1.1"/>
<text x="390.3" y="242.1" font-size="7.9" text-anchor="middle" fill="#f01818" >3</text>
<rect x="71.6" y="155.5" width="63.8" height="60.4" fill="#fff"/>
<rect x="77.4" y="155.5" width="5.8" height="60.4" fill="#80c080"/>
<path d="M71.6,157.3L72.2,157.5 72.8,157.4 73.3,157.4 73.9,157.4 74.5,157.3 75.1,157.4 75.7,157.5 76.2,157.5 76.8,157.4 77.4,157.6 78,158.4 78.6,160.1 79.1,162.3 79.7,166.1 80.3,170.4 80.9,176.4 81.5,185 82,190.3 82.6,193.5 83.2,196 83.8,197.8 84.4,199.8 84.9,201.2 85.5,202.4 86.1,203.2 86.7,203.8 87.3,204.5 87.8,205.1 88.4,205.3 89,205.6 89.6,205.7 90.2,205.7 90.7,206 91.3,206.1 91.9,206.2 92.5,206.2 93.1,206.3 93.6,206.5 94.2,206.7 94.8,206.9 95.4,207 96,207.3 96.5,207.3 97.1,207.5 97.7,207.5 98.3,208 98.9,208.2 99.4,208.4 100,208.4 100.6,208.5 101.2,208.6 101.8,208.7 102.3,208.8 102.9,208.9 103.5,209 104.1,209.2 104.7,209.5 105.2,209.5 105.8,209.6 106.4,209.5 107,209.7 107.6,209.8 108.1,210 108.7,210.1 109.3,210.2 109.9,210.2 110.5,210.3 111,210.6 111.6,210.7 112.2,210.6 112.8,210.6 113.4,210.8 113.9,210.8 114.5,211.1 115.1,211.1 115.7,211.2 116.3,211.2 116.8,211.3 117.4,211.6 118,211.5 118.6,211.7 119.2,211.7 119.7,211.6 120.3,211.6 120.9,211.7 121.5,211.9 122.1,211.8 122.6,212 123.2,211.9 123.8,212.1 124.4,212.1 125,212.1 125.5,212 126.1,212.3 126.7,212.3 127.3,212.5 127.9,212.4 128.4,212.7 129,212.7 129.6,212.7 130.2,212.6 130.8,212.9 131.3,212.9 131.9,213 132.5,213.2 133.1,213.1 133.7,213 134.2,213.2 134.8,213.4 135.4,213.4" fill="none" stroke="#000" stroke-width="1.05" stroke-linejoin="round"/>
<rect x="71.6" y="155.5" width="63.8" height="60.4" fill="none" stroke="#7c7c7c" stroke-width="1"/>
<path d="M69.1,157.4H71.6" stroke="#555" stroke-width="0.8"/>
<text x="68.1" y="159.7" font-size="6.7" text-anchor="end" fill="#151515" >0</text>
<path d="M69.1,186.7H71.6" stroke="#555" stroke-width="0.8"/>
<text x="68.1" y="189" font-size="6.7" text-anchor="end" fill="#151515" >-150</text>
<path d="M69.1,215.9H71.6" stroke="#555" stroke-width="0.8"/>
<text x="68.1" y="218.2" font-size="6.7" text-anchor="end" fill="#151515" >-300</text>
<path d="M77.4,215.9V218.4" stroke="#555" stroke-width="0.8"/>
<text x="77.4" y="225.4" font-size="6.7" text-anchor="middle" fill="#151515" >0</text>
<path d="M135.4,215.9V218.4" stroke="#555" stroke-width="0.8"/>
<text x="135.4" y="225.4" font-size="6.7" text-anchor="middle" fill="#151515" >10</text>
<rect x="177.6" y="155.3" width="63.3" height="60.5" fill="#fff"/>
<rect x="183.4" y="155.3" width="5.8" height="60.5" fill="#8080ff"/>
<path d="M177.6,204.3L178.2,203.8 178.8,204.3 179.3,205.5 179.9,204.8 180.5,202.9 181.1,204.2 181.6,203.8 182.2,205.8 182.8,204.4 183.4,204.1 183.9,203.2 184.5,203.7 185.1,201.6 185.7,199.4 186.2,199.3 186.8,198.4 187.4,198.2 188,195.1 188.5,194 189.1,192.2 189.7,191.2 190.3,191.3 190.8,189 191.4,188.5 192,187.6 192.6,187.7 193.1,188.2 193.7,187.2 194.3,187.6 194.9,187.2 195.4,186.4 196,185.4 196.6,184.9 197.2,184.5 197.7,183.2 198.3,184.6 198.9,183.3 199.5,182.8 200,181.9 200.6,182 201.2,181.4 201.8,181.6 202.3,180.2 202.9,177.5 203.5,176.9 204.1,175.4 204.6,176 205.2,176.7 205.8,175.3 206.4,174.5 206.9,174.6 207.5,175.2 208.1,175.9 208.7,172.9 209.2,174.7 209.8,172.7 210.4,172.7 211,172.2 211.6,175.1 212.1,173.8 212.7,173.9 213.3,172.4 213.9,172.1 214.4,171.7 215,170.4 215.6,171 216.2,171.7 216.7,172.4 217.3,170.7 217.9,171.1 218.5,170.6 219,171.4 219.6,170.9 220.2,170.5 220.8,169.6 221.3,169.4 221.9,170.1 222.5,171.9 223.1,169.9 223.6,169.8 224.2,168.8 224.8,170.3 225.4,169.3 225.9,168.3 226.5,169.3 227.1,168 227.7,169 228.2,168.5 228.8,168.1 229.4,167.7 230,166.4 230.5,166.8 231.1,166.2 231.7,165.3 232.3,164.3 232.8,165.2 233.4,166.7 234,166.1 234.6,165.3 235.1,165.5 235.7,165.6 236.3,163.3 236.9,163.6 237.4,163.6 238,163.8 238.6,166.3 239.2,164.3 239.7,163.9 240.3,163.3 240.9,164.3" fill="none" stroke="#000" stroke-width="1.05" stroke-linejoin="round"/>
<rect x="177.6" y="155.3" width="63.3" height="60.5" fill="none" stroke="#7c7c7c" stroke-width="1"/>
<path d="M175.1,155.3H177.6" stroke="#555" stroke-width="0.8"/>
<text x="174.1" y="157.6" font-size="6.7" text-anchor="end" fill="#151515" >-250</text>
<path d="M175.1,215.8H177.6" stroke="#555" stroke-width="0.8"/>
<text x="174.1" y="218.1" font-size="6.7" text-anchor="end" fill="#151515" >-350</text>
<path d="M183.4,215.8V218.3" stroke="#555" stroke-width="0.8"/>
<text x="183.4" y="225.3" font-size="6.7" text-anchor="middle" fill="#151515" >100</text>
<path d="M240.9,215.8V218.3" stroke="#555" stroke-width="0.8"/>
<text x="240.9" y="225.3" font-size="6.7" text-anchor="middle" fill="#151515" >110</text>
<rect x="283" y="155.3" width="63.7" height="60.5" fill="#fff"/>
<rect x="288.8" y="155.3" width="5.8" height="60.5" fill="#80c080"/>
<path d="M283,164.9L283.6,164.6 284.2,167 284.7,165.9 285.3,165.8 285.9,165.5 286.5,166.3 287.1,164.7 287.6,164.1 288.2,163.5 288.8,164.7 289.4,164.1 289.9,169.8 290.5,172.8 291.1,174.8 291.7,177.6 292.3,179.2 292.8,180.5 293.4,182.1 294,182.9 294.6,186.3 295.2,188.2 295.7,189.9 296.3,190.6 296.9,191 297.5,192.5 298.1,193.2 298.6,194.1 299.2,195.6 299.8,196 300.4,195.4 301,195.5 301.5,197.5 302.1,199.3 302.7,198.6 303.3,200.3 303.8,198 304.4,199.2 305,199.1 305.6,200 306.2,199.6 306.7,199.8 307.3,199.8 307.9,199.8 308.5,200.8 309.1,200.2 309.6,200.7 310.2,200.2 310.8,198.8 311.4,200.7 312,200.5 312.5,200.5 313.1,200.9 313.7,201.2 314.3,200.5 314.8,200.6 315.4,201.1 316,201.7 316.6,200.8 317.2,202 317.7,201.9 318.3,202.7 318.9,203.1 319.5,204.5 320.1,204.1 320.6,203.8 321.2,203.1 321.8,204.5 322.4,203.9 323,203.2 323.5,202.7 324.1,202.2 324.7,203.3 325.3,201.9 325.9,202.4 326.4,201.7 327,201.2 327.6,200.7 328.2,200.6 328.7,201.5 329.3,202.3 329.9,200 330.5,199.2 331.1,198.3 331.6,198.6 332.2,201.1 332.8,201 333.4,202 334,201.5 334.5,202.2 335.1,202.5 335.7,200.1 336.3,201.6 336.9,201.5 337.4,200.6 338,200.8 338.6,201.7 339.2,202.3 339.8,200.9 340.3,202.3 340.9,203.4 341.5,203.2 342.1,204 342.6,203.3 343.2,203.5 343.8,202.2 344.4,203.6 345,203.1 345.5,203.4 346.1,203.2 346.7,202.7" fill="none" stroke="#000" stroke-width="1.05" stroke-linejoin="round"/>
<rect x="283" y="155.3" width="63.7" height="60.5" fill="none" stroke="#7c7c7c" stroke-width="1"/>
<path d="M280.5,155.3H283" stroke="#555" stroke-width="0.8"/>
<text x="279.5" y="157.6" font-size="6.7" text-anchor="end" fill="#151515" >-250</text>
<path d="M280.5,215.8H283" stroke="#555" stroke-width="0.8"/>
<text x="279.5" y="218.1" font-size="6.7" text-anchor="end" fill="#151515" >-320</text>
<path d="M288.8,215.8V218.3" stroke="#555" stroke-width="0.8"/>
<text x="288.8" y="225.3" font-size="6.7" text-anchor="middle" fill="#151515" >200</text>
<path d="M346.7,215.8V218.3" stroke="#555" stroke-width="0.8"/>
<text x="346.7" y="225.3" font-size="6.7" text-anchor="middle" fill="#151515" >210</text>
<rect x="388.7" y="155.3" width="63.8" height="60.5" fill="#fff"/>
<rect x="394.5" y="155.3" width="5.8" height="60.5" fill="#8080ff"/>
<path d="M388.7,206.4L389.3,206.5 389.9,206.9 390.4,206.6 391,207.4 391.6,206.5 392.2,206.4 392.8,206.5 393.3,207.2 393.9,207.2 394.5,206.8 395.1,206.8 395.7,206.4 396.2,204.8 396.8,203.2 397.4,202.5 398,201.6 398.6,201.1 399.1,199.1 399.7,199.4 400.3,197.7 400.9,196.2 401.5,194.8 402,193.8 402.6,192.4 403.2,193.1 403.8,192.7 404.4,192.3 404.9,190.7 405.5,189.7 406.1,190.9 406.7,189.9 407.3,190.4 407.8,189.2 408.4,188 409,187.8 409.6,188.9 410.2,188.7 410.7,187.9 411.3,188.3 411.9,188.5 412.5,187.3 413.1,187 413.6,186.2 414.2,186.3 414.8,186.2 415.4,186 416,184.8 416.5,185.6 417.1,185.1 417.7,183.5 418.3,182.9 418.9,182.3 419.4,182.8 420,182.8 420.6,182.6 421.2,181.7 421.8,181.7 422.3,182.2 422.9,181.3 423.5,181.2 424.1,183.3 424.7,181.9 425.2,182.6 425.8,182.2 426.4,181.6 427,181.3 427.6,181.4 428.1,180.9 428.7,181.7 429.3,181.3 429.9,180 430.5,178.8 431,178.7 431.6,179.3 432.2,177.9 432.8,178.2 433.4,178.1 433.9,176.4 434.5,176.1 435.1,175.8 435.7,177.7 436.3,177.2 436.8,176.9 437.4,175.8 438,175.5 438.6,176 439.2,177.1 439.7,175.2 440.3,174 440.9,174.6 441.5,174.3 442.1,174.7 442.6,175.3 443.2,174 443.8,173.5 444.4,173.4 445,172.8 445.5,173.2 446.1,173 446.7,173.7 447.3,173.2 447.9,173.4 448.4,172.1 449,172 449.6,172.9 450.2,171.6 450.8,172.2 451.3,171 451.9,171.2 452.5,171.1" fill="none" stroke="#000" stroke-width="1.05" stroke-linejoin="round"/>
<rect x="388.7" y="155.3" width="63.8" height="60.5" fill="none" stroke="#7c7c7c" stroke-width="1"/>
<path d="M386.2,155.3H388.7" stroke="#555" stroke-width="0.8"/>
<text x="385.2" y="157.6" font-size="6.7" text-anchor="end" fill="#151515" >-220</text>
<path d="M386.2,215.8H388.7" stroke="#555" stroke-width="0.8"/>
<text x="385.2" y="218.1" font-size="6.7" text-anchor="end" fill="#151515" >-320</text>
<path d="M394.5,215.8V218.3" stroke="#555" stroke-width="0.8"/>
<text x="394.5" y="225.3" font-size="6.7" text-anchor="middle" fill="#151515" >300</text>
<path d="M452.5,215.8V218.3" stroke="#555" stroke-width="0.8"/>
<text x="452.5" y="225.3" font-size="6.7" text-anchor="middle" fill="#151515" >310</text>
<rect x="81.8" y="326.4" width="116.5" height="62.9" fill="#fff"/>
<rect x="110.9" y="326.4" width="8.7" height="62.9" fill="#8080ff"/>
<path d="M81.8,328.7L82.4,328.9 83,328.6 83.5,328.4 84.1,329 84.7,328.8 85.3,329 85.9,328.9 86.5,328.7 87,328.7 87.6,328.8 88.2,328.7 88.8,328.9 89.4,329 90,328.8 90.5,328.9 91.1,329 91.7,328.8 92.3,328.8 92.9,328.8 93.4,328.7 94,329.1 94.6,329.1 95.2,329 95.8,329.1 96.4,328.8 96.9,328.8 97.5,328.7 98.1,328.9 98.7,329.1 99.3,329.1 99.9,328.8 100.4,328.9 101,329 101.6,328.8 102.2,329 102.8,329.1 103.4,329 103.9,329.1 104.5,329.2 105.1,329 105.7,329.1 106.3,329 106.8,329 107.4,328.9 108,329 108.6,328.6 109.2,328.8 109.8,328.9 110.3,329.1 110.9,329.1 111.5,330.9 112.1,334.7 112.7,340.1 113.3,346.7 113.8,353.4 114.4,360.8 115,366.6 115.6,370 116.2,372.7 116.7,374.6 117.3,376.4 117.9,377.1 118.5,378 119.1,378.5 119.7,379.3 120.2,379.3 120.8,379.2 121.4,379.3 122,379.3 122.6,379.3 123.2,379.5 123.7,379.5 124.3,379.3 124.9,379.3 125.5,379.1 126.1,378.9 126.7,378.6 127.2,378.5 127.8,378.9 128.4,378.5 129,378.6 129.6,378.1 130.1,377.8 130.7,377.8 131.3,377.8 131.9,377.7 132.5,377.3 133.1,377.1 133.6,377.1 134.2,377.3 134.8,377.2 135.4,377.3 136,377.1 136.6,377.4 137.1,377.2 137.7,376.8 138.3,376.8 138.9,376.8 139.5,376.8 140,376.7 140.6,376.9 141.2,377 141.8,376.7 142.4,376.9 143,376.7 143.5,376.8 144.1,376.8 144.7,376.5 145.3,376.9 145.9,376.7 146.5,376.6 147,376.7 147.6,376.7 148.2,376.9 148.8,376.5 149.4,376.7 150,376.3 150.5,376.6 151.1,376.4 151.7,376.5 152.3,376.8 152.9,376.8 153.4,376.5 154,376.6 154.6,376.4 155.2,376.6 155.8,376.5 156.4,376.6 156.9,376.6 157.5,376.5 158.1,376.8 158.7,376.9 159.3,377 159.9,376.4 160.4,376.7 161,376.5 161.6,376.7 162.2,376.8 162.8,376.9 163.3,376.5 163.9,376.9 164.5,376.9 165.1,376.7 165.7,376.6 166.3,376.5 166.8,376.7 167.4,376.6 168,376.5 168.6,376.6 169.2,376.4 169.8,376.6 170.3,376.6 170.9,376.7 171.5,376.8 172.1,376.7 172.7,376.8 173.3,376.7 173.8,376.8 174.4,376.7 175,376.9 175.6,376.6 176.2,376.7 176.7,376.4 177.3,376.7 177.9,376.5 178.5,376.9 179.1,377 179.7,376.9 180.2,376.9 180.8,376.9 181.4,376.8 182,377.1 182.6,377 183.2,377.1 183.7,377.1 184.3,377.1 184.9,377 185.5,376.9 186.1,376.9 186.6,376.8 187.2,377.1 187.8,377.2 188.4,377.1 189,377.1 189.6,377.1 190.1,376.8 190.7,377.2 191.3,377.1 191.9,377 192.5,377.2 193.1,377.1 193.6,377.1 194.2,377.1 194.8,377.1 195.4,377 196,377.1 196.6,377.3 197.1,377.3 197.7,377 198.3,376.8" fill="none" stroke="#000" stroke-width="1.05" stroke-linejoin="round"/>
<rect x="81.8" y="326.4" width="116.5" height="62.9" fill="none" stroke="#7c7c7c" stroke-width="1"/>
<path d="M79.3,328.9H81.8" stroke="#555" stroke-width="0.8"/>
<text x="78.3" y="331.2" font-size="6.7" text-anchor="end" fill="#151515" >0</text>
<path d="M79.3,354.1H81.8" stroke="#555" stroke-width="0.8"/>
<text x="78.3" y="356.4" font-size="6.7" text-anchor="end" fill="#151515" >-100</text>
<path d="M79.3,379.2H81.8" stroke="#555" stroke-width="0.8"/>
<text x="78.3" y="381.5" font-size="6.7" text-anchor="end" fill="#151515" >-200</text>
<path d="M81.8,389.3V391.8" stroke="#555" stroke-width="0.8"/>
<text x="81.8" y="398.8" font-size="6.7" text-anchor="middle" fill="#151515" >-10</text>
<path d="M110.9,389.3V391.8" stroke="#555" stroke-width="0.8"/>
<text x="110.9" y="398.8" font-size="6.7" text-anchor="middle" fill="#151515" >0</text>
<path d="M140.1,389.3V391.8" stroke="#555" stroke-width="0.8"/>
<text x="140.1" y="398.8" font-size="6.7" text-anchor="middle" fill="#151515" >10</text>
<path d="M169.2,389.3V391.8" stroke="#555" stroke-width="0.8"/>
<text x="169.2" y="398.8" font-size="6.7" text-anchor="middle" fill="#151515" >20</text>
<path d="M198.3,389.3V391.8" stroke="#555" stroke-width="0.8"/>
<text x="198.3" y="398.8" font-size="6.7" text-anchor="middle" fill="#151515" >30</text>
<rect x="277.7" y="326.6" width="121.7" height="58.3" fill="#fff"/>
<rect x="308.1" y="326.6" width="9.1" height="58.3" fill="#8080ff"/>
<path d="M277.7,368L278.3,369.1 278.9,369.7 279.5,368.2 280.1,369.6 280.7,368.1 281.4,367.4 282,369.3 282.6,369.4 283.2,368.5 283.8,368 284.4,367.9 285,368.8 285.6,369.3 286.2,370.4 286.8,369.9 287.4,369.9 288,369.5 288.7,369.9 289.3,369.9 289.9,369.4 290.5,369.2 291.1,369.8 291.7,370.2 292.3,370.5 292.9,372.1 293.5,369.9 294.1,370.4 294.7,371.4 295.3,369.6 296,369.5 296.6,369.5 297.2,368.4 297.8,368.4 298.4,367.1 299,368.3 299.6,368.1 300.2,368.3 300.8,368.5 301.4,367.1 302,366.5 302.6,368.4 303.3,368.9 303.9,369 304.5,369.3 305.1,369.2 305.7,370.1 306.3,370.7 306.9,370.9 307.5,370.5 308.1,370.1 308.7,372.7 309.3,371.6 310,374 310.6,374.2 311.2,375.1 311.8,376.1 312.4,378.4 313,379.9 313.6,380 314.2,380.9 314.8,381 315.4,383.9 316,382.6 316.6,383.3 317.3,381.1 317.9,382.4 318.5,382.9 319.1,380.9 319.7,379.7 320.3,379.8 320.9,378.7 321.5,377.4 322.1,374.8 322.7,374.1 323.3,371.7 323.9,369.5 324.6,369.1 325.2,369.3 325.8,368.6 326.4,367.8 327,367.4 327.6,366.5 328.2,366.5 328.8,365.4 329.4,364.8 330,363.4 330.6,364.3 331.2,364.2 331.9,362.4 332.5,360.7 333.1,359.5 333.7,360.8 334.3,360.6 334.9,358.4 335.5,358.9 336.1,359 336.7,358.2 337.3,357.4 337.9,357.5 338.5,359 339.2,357.6 339.8,357.1 340.4,356.2 341,355.9 341.6,356.2 342.2,355.7 342.8,355.6 343.4,355.5 344,354.1 344.6,354.4 345.2,354.2 345.9,353.4 346.5,351.9 347.1,351.4 347.7,350.6 348.3,349.2 348.9,350 349.5,350.7 350.1,349.8 350.7,350.1 351.3,350.5 351.9,349.7 352.5,349.2 353.2,348.7 353.8,348.2 354.4,347.8 355,347.6 355.6,347.8 356.2,347.3 356.8,347.3 357.4,346.9 358,346.3 358.6,345 359.2,344.8 359.8,346.3 360.5,345.2 361.1,344.9 361.7,345.1 362.3,345.7 362.9,345.3 363.5,345.1 364.1,344.6 364.7,343.8 365.3,343.7 365.9,343.6 366.5,343.4 367.1,343 367.8,343.4 368.4,343.6 369,344.5 369.6,344.1 370.2,343.2 370.8,343.9 371.4,342.1 372,343.2 372.6,342.9 373.2,344.4 373.8,343.2 374.5,343.5 375.1,342.7 375.7,342.8 376.3,342.8 376.9,343.4 377.5,342.3 378.1,343.3 378.7,343.1 379.3,343.3 379.9,342.1 380.5,340.9 381.1,341.5 381.8,341.7 382.4,341.3 383,341.5 383.6,341.5 384.2,341.8 384.8,340 385.4,339.5 386,340.2 386.6,340.5 387.2,339.6 387.8,339.7 388.4,339.3 389.1,340 389.7,340.2 390.3,339.7 390.9,339 391.5,338.5 392.1,338.6 392.7,338.7 393.3,339.1 393.9,337.5 394.5,338 395.1,339.3 395.7,338.6 396.4,339.2 397,339.2 397.6,339.6 398.2,338 398.8,338.3 399.4,338.4" fill="none" stroke="#000" stroke-width="1.05" stroke-linejoin="round"/>
<rect x="277.7" y="326.6" width="121.7" height="58.3" fill="none" stroke="#7c7c7c" stroke-width="1"/>
<path d="M275.2,326.6H277.7" stroke="#555" stroke-width="0.8"/>
<text x="274.2" y="328.9" font-size="6.7" text-anchor="end" fill="#151515" >-170</text>
<path d="M275.2,361.6H277.7" stroke="#555" stroke-width="0.8"/>
<text x="274.2" y="363.9" font-size="6.7" text-anchor="end" fill="#151515" >-200</text>
<path d="M277.7,384.9V387.4" stroke="#555" stroke-width="0.8"/>
<text x="277.7" y="394.4" font-size="6.7" text-anchor="middle" fill="#151515" >190</text>
<path d="M308.1,384.9V387.4" stroke="#555" stroke-width="0.8"/>
<text x="308.1" y="394.4" font-size="6.7" text-anchor="middle" fill="#151515" >200</text>
<path d="M338.5,384.9V387.4" stroke="#555" stroke-width="0.8"/>
<text x="338.5" y="394.4" font-size="6.7" text-anchor="middle" fill="#151515" >210</text>
<path d="M369,384.9V387.4" stroke="#555" stroke-width="0.8"/>
<text x="369" y="394.4" font-size="6.7" text-anchor="middle" fill="#151515" >220</text>
<path d="M399.4,384.9V387.4" stroke="#555" stroke-width="0.8"/>
<text x="399.4" y="394.4" font-size="6.7" text-anchor="middle" fill="#151515" >230</text>
<rect x="402.7" y="17.2" width="56.8" height="26" rx="1.2" fill="#fff" fill-opacity="0.85" stroke="#d6d6d6" stroke-width="0.7"/>
<path d="M405,21.5H417" stroke="#222" stroke-width="1.3"/>
<text x="421.2" y="23.5" font-size="5.7" text-anchor="start" fill="#000" >Mean Trace</text>
<rect x="405" y="27.7" width="12" height="4.4" fill="#e4e4e4"/>
<text x="421.2" y="31.9" font-size="5.7" text-anchor="start" fill="#000" >±1 SD</text>
<rect x="405" y="35.9" width="12" height="4.4" fill="#80c080"/>
<text x="421.2" y="40.1" font-size="5.7" text-anchor="start" fill="#000" >1-ms GR flash</text>
<rect x="402.3" y="242.9" width="57.3" height="32.7" rx="1.2" fill="#fff" fill-opacity="0.85" stroke="#d6d6d6" stroke-width="0.7"/>
<path d="M405,247H417" stroke="#222" stroke-width="1.3"/>
<text x="421.2" y="249" font-size="5.7" text-anchor="start" fill="#000" >Mean Trace</text>
<rect x="405" y="253" width="12" height="4.4" fill="#e4e4e4"/>
<text x="421.2" y="257.2" font-size="5.7" text-anchor="start" fill="#000" >±1 SD</text>
<rect x="405" y="261.1" width="12" height="4.4" fill="#80c080"/>
<text x="421.2" y="265.3" font-size="5.7" text-anchor="start" fill="#000" >1-ms GR flash</text>
<rect x="405" y="269.1" width="12" height="4.4" fill="#8080ff"/>
<text x="421.2" y="273.3" font-size="5.7" text-anchor="start" fill="#000" >1-ms UV flash</text>
<rect x="403.1" y="320.2" width="56.5" height="25.9" rx="1.2" fill="#fff" fill-opacity="0.85" stroke="#d6d6d6" stroke-width="0.7"/>
<path d="M405,324.7H417" stroke="#222" stroke-width="1.3"/>
<text x="421.2" y="326.7" font-size="5.7" text-anchor="start" fill="#000" >Mean Trace</text>
<rect x="405" y="330.8" width="12" height="4.4" fill="#e4e4e4"/>
<text x="421.2" y="335" font-size="5.7" text-anchor="start" fill="#000" >±1 SD</text>
<rect x="405" y="338.9" width="12" height="4.4" fill="#8080ff"/>
<text x="421.2" y="343.1" font-size="5.7" text-anchor="start" fill="#000" >3-ms UV flash</text>
<path d="M511.9,24.4V136.3H678.8" fill="none" stroke="#555" stroke-width="1"/>
<path d="M509.1,131.2H511.9" stroke="#555" stroke-width="0.8"/>
<text x="507.9" y="133.5" font-size="6.7" text-anchor="end" fill="#151515" >0</text>
<path d="M509.1,105.8H511.9" stroke="#555" stroke-width="0.8"/>
<text x="507.9" y="108.1" font-size="6.7" text-anchor="end" fill="#151515" >25</text>
<path d="M509.1,80.3H511.9" stroke="#555" stroke-width="0.8"/>
<text x="507.9" y="82.6" font-size="6.7" text-anchor="end" fill="#151515" >50</text>
<path d="M509.1,54.9H511.9" stroke="#555" stroke-width="0.8"/>
<text x="507.9" y="57.2" font-size="6.7" text-anchor="end" fill="#151515" >75</text>
<path d="M509.1,29.4H511.9" stroke="#555" stroke-width="0.8"/>
<text x="507.9" y="31.7" font-size="6.7" text-anchor="end" fill="#151515" >100</text>
<path d="M515.2,136.3V138.8" stroke="#555" stroke-width="0.8"/>
<text x="515.2" y="145.7" font-size="6.7" text-anchor="middle" fill="#151515" >0</text>
<path d="M547.9,136.3V138.8" stroke="#555" stroke-width="0.8"/>
<text x="547.9" y="145.7" font-size="6.7" text-anchor="middle" fill="#151515" >50</text>
<path d="M580.6,136.3V138.8" stroke="#555" stroke-width="0.8"/>
<text x="580.6" y="145.7" font-size="6.7" text-anchor="middle" fill="#151515" >100</text>
<path d="M613.4,136.3V138.8" stroke="#555" stroke-width="0.8"/>
<text x="613.4" y="145.7" font-size="6.7" text-anchor="middle" fill="#151515" >150</text>
<path d="M646.1,136.3V138.8" stroke="#555" stroke-width="0.8"/>
<text x="646.1" y="145.7" font-size="6.7" text-anchor="middle" fill="#151515" >200</text>
<circle cx="515.1" cy="131.2" r="1.5" fill="#d03040"/>
<path d="M534.8,95.5V109.3M532.2,95.5H537.4M532.2,109.3H537.4" stroke="#222" stroke-width="1.1" fill="none"/>
<circle cx="534.8" cy="102.2" r="1.85" fill="#000"/>
<path d="M560.7,63.6V83.2M558.1,63.6H563.3M558.1,83.2H563.3" stroke="#555" stroke-width="1.1" fill="none"/>
<circle cx="560.7" cy="73.4" r="1.85" fill="#000"/>
<path d="M588.5,45.7V73.4M585.9,45.7H591.1M585.9,73.4H591.1" stroke="#222" stroke-width="1.1" fill="none"/>
<circle cx="588.5" cy="59.9" r="1.85" fill="#000"/>
<path d="M661.5,31.6V43.4M658.9,31.6H664.1M658.9,43.4H664.1" stroke="#222" stroke-width="1.1" fill="none"/>
<circle cx="661.5" cy="37.6" r="1.85" fill="#000"/>
<circle cx="535.5" cy="89.6" r="1.05" fill="#6a6aff"/>
<circle cx="536.4" cy="104.6" r="1.05" fill="#6a6aff"/>
<circle cx="534.9" cy="106.8" r="1.05" fill="#6a6aff"/>
<circle cx="534.2" cy="103.7" r="1.05" fill="#6a6aff"/>
<circle cx="564.7" cy="61.8" r="1.05" fill="#6a6aff"/>
<circle cx="560.6" cy="67.9" r="1.05" fill="#6a6aff"/>
<circle cx="564.1" cy="72.9" r="1.05" fill="#6a6aff"/>
<circle cx="561.9" cy="78" r="1.05" fill="#6a6aff"/>
<circle cx="560" cy="86.7" r="1.05" fill="#6a6aff"/>
<circle cx="589.1" cy="48.4" r="1.05" fill="#6a6aff"/>
<circle cx="590.9" cy="52" r="1.05" fill="#6a6aff"/>
<circle cx="591.9" cy="59.2" r="1.05" fill="#6a6aff"/>
<circle cx="588.5" cy="79.6" r="1.05" fill="#6a6aff"/>
<circle cx="658.6" cy="29.3" r="1.05" fill="#6a6aff"/>
<circle cx="664.5" cy="37.8" r="1.05" fill="#6a6aff"/>
<circle cx="658" cy="40.8" r="1.05" fill="#6a6aff"/>
<circle cx="657.6" cy="42.6" r="1.05" fill="#6a6aff"/>
<circle cx="538.7" cy="18.4" r="4.2" fill="none" stroke="#f01818" stroke-width="1.0"/>
<text x="538.7" y="21.1" font-size="7.4" text-anchor="middle" fill="#f01818" >1</text>
<text x="546.2" y="21.3" font-size="8.5" text-anchor="start" fill="#222" >First elongation amplitude</text>
<path d="M510.2,171.2V283.1H678.6" fill="none" stroke="#555" stroke-width="1"/>
<path d="M507.4,171.2H510.2" stroke="#555" stroke-width="0.8"/>
<text x="506.2" y="173.5" font-size="6.7" text-anchor="end" fill="#151515" >0</text>
<path d="M507.4,217.8H510.2" stroke="#555" stroke-width="0.8"/>
<text x="506.2" y="220.1" font-size="6.7" text-anchor="end" fill="#151515" >-25</text>
<path d="M507.4,264.5H510.2" stroke="#555" stroke-width="0.8"/>
<text x="506.2" y="266.8" font-size="6.7" text-anchor="end" fill="#151515" >-50</text>
<path d="M513.5,283.1V285.6" stroke="#555" stroke-width="0.8"/>
<text x="513.5" y="292.5" font-size="6.7" text-anchor="middle" fill="#151515" >0</text>
<path d="M546.5,283.1V285.6" stroke="#555" stroke-width="0.8"/>
<text x="546.5" y="292.5" font-size="6.7" text-anchor="middle" fill="#151515" >50</text>
<path d="M579.5,283.1V285.6" stroke="#555" stroke-width="0.8"/>
<text x="579.5" y="292.5" font-size="6.7" text-anchor="middle" fill="#151515" >100</text>
<path d="M612.6,283.1V285.6" stroke="#555" stroke-width="0.8"/>
<text x="612.6" y="292.5" font-size="6.7" text-anchor="middle" fill="#151515" >150</text>
<path d="M645.6,283.1V285.6" stroke="#555" stroke-width="0.8"/>
<text x="645.6" y="292.5" font-size="6.7" text-anchor="middle" fill="#151515" >200</text>
<path d="M513.7,189.4V203.3M511.1,189.4H516.3M511.1,203.3H516.3" stroke="#222" stroke-width="1.1" fill="none"/>
<circle cx="513.7" cy="196.6" r="1.85" fill="#000"/>
<path d="M533.4,198V215M530.8,198H536M530.8,215H536" stroke="#222" stroke-width="1.1" fill="none"/>
<circle cx="533.4" cy="206.4" r="1.85" fill="#000"/>
<path d="M559.9,222.8V239.5M557.3,222.8H562.5M557.3,239.5H562.5" stroke="#777" stroke-width="1.1" fill="none"/>
<circle cx="559.9" cy="231.1" r="1.85" fill="#000"/>
<path d="M587.5,240.9V267.2M584.9,240.9H590.1M584.9,267.2H590.1" stroke="#222" stroke-width="1.1" fill="none"/>
<circle cx="587.5" cy="253.8" r="1.85" fill="#000"/>
<path d="M661.5,243.4V273M658.9,243.4H664.1M658.9,273H664.1" stroke="#222" stroke-width="1.1" fill="none"/>
<circle cx="661.5" cy="258.2" r="1.85" fill="#000"/>
<circle cx="514.7" cy="189.4" r="1.05" fill="#4caf50"/>
<circle cx="515.6" cy="197.5" r="1.05" fill="#4caf50"/>
<circle cx="514.1" cy="203.3" r="1.05" fill="#4caf50"/>
<circle cx="533.4" cy="198.2" r="1.05" fill="#4caf50"/>
<circle cx="534.9" cy="205.8" r="1.05" fill="#4caf50"/>
<circle cx="536.5" cy="212.5" r="1.05" fill="#4caf50"/>
<circle cx="532.9" cy="217.2" r="1.05" fill="#4caf50"/>
<circle cx="560.1" cy="223.3" r="1.05" fill="#4caf50"/>
<circle cx="563.6" cy="226.1" r="1.05" fill="#4caf50"/>
<circle cx="562.2" cy="229.9" r="1.05" fill="#4caf50"/>
<circle cx="558.8" cy="244.5" r="1.05" fill="#4caf50"/>
<circle cx="591" cy="242.9" r="1.05" fill="#4caf50"/>
<circle cx="583.9" cy="247.5" r="1.05" fill="#4caf50"/>
<circle cx="584" cy="252.7" r="1.05" fill="#4caf50"/>
<circle cx="584.2" cy="272.7" r="1.05" fill="#4caf50"/>
<circle cx="664.7" cy="243.4" r="1.05" fill="#4caf50"/>
<circle cx="665.5" cy="247" r="1.05" fill="#4caf50"/>
<circle cx="663.5" cy="270" r="1.05" fill="#4caf50"/>
<circle cx="663.9" cy="271.7" r="1.05" fill="#4caf50"/>
<circle cx="530.2" cy="165.5" r="4.2" fill="none" stroke="#f01818" stroke-width="1.0"/>
<text x="530.2" y="168.2" font-size="7.4" text-anchor="middle" fill="#f01818" >2</text>
<text x="538.3" y="168.4" font-size="8.5" text-anchor="start" fill="#222" >Second contraction amplitude</text>
<path d="M511.8,319.1V430.6H678.8" fill="none" stroke="#555" stroke-width="1"/>
<path d="M509,425.3H511.8" stroke="#555" stroke-width="0.8"/>
<text x="507.8" y="427.6" font-size="6.7" text-anchor="end" fill="#151515" >0</text>
<path d="M509,398.8H511.8" stroke="#555" stroke-width="0.8"/>
<text x="507.8" y="401.1" font-size="6.7" text-anchor="end" fill="#151515" >25</text>
<path d="M509,372.2H511.8" stroke="#555" stroke-width="0.8"/>
<text x="507.8" y="374.5" font-size="6.7" text-anchor="end" fill="#151515" >50</text>
<path d="M509,345.6H511.8" stroke="#555" stroke-width="0.8"/>
<text x="507.8" y="347.9" font-size="6.7" text-anchor="end" fill="#151515" >75</text>
<path d="M509,319.1H511.8" stroke="#555" stroke-width="0.8"/>
<text x="507.8" y="321.4" font-size="6.7" text-anchor="end" fill="#151515" >100</text>
<path d="M515.1,430.6V433.1" stroke="#555" stroke-width="0.8"/>
<text x="515.1" y="440" font-size="6.7" text-anchor="middle" fill="#151515" >0</text>
<path d="M547.8,430.6V433.1" stroke="#555" stroke-width="0.8"/>
<text x="547.8" y="440" font-size="6.7" text-anchor="middle" fill="#151515" >50</text>
<path d="M580.6,430.6V433.1" stroke="#555" stroke-width="0.8"/>
<text x="580.6" y="440" font-size="6.7" text-anchor="middle" fill="#151515" >100</text>
<path d="M613.3,430.6V433.1" stroke="#555" stroke-width="0.8"/>
<text x="613.3" y="440" font-size="6.7" text-anchor="middle" fill="#151515" >150</text>
<path d="M646.1,430.6V433.1" stroke="#555" stroke-width="0.8"/>
<text x="646.1" y="440" font-size="6.7" text-anchor="middle" fill="#151515" >200</text>
<circle cx="515" cy="425.3" r="1.5" fill="#d03040"/>
<path d="M534.6,384.4V396.5M532,384.4H537.2M532,396.5H537.2" stroke="#222" stroke-width="1.1" fill="none"/>
<circle cx="534.6" cy="390.8" r="1.85" fill="#000"/>
<path d="M560.9,355.4V366.5M558.3,355.4H563.5M558.3,366.5H563.5" stroke="#555" stroke-width="1.1" fill="none"/>
<circle cx="560.9" cy="361.5" r="1.85" fill="#000"/>
<path d="M588.4,339.6V358M585.8,339.6H591M585.8,358H591" stroke="#222" stroke-width="1.1" fill="none"/>
<circle cx="588.4" cy="348.8" r="1.85" fill="#000"/>
<path d="M661.6,328.4V349.4M659,328.4H664.2M659,349.4H664.2" stroke="#222" stroke-width="1.1" fill="none"/>
<circle cx="661.6" cy="338.5" r="1.85" fill="#000"/>
<circle cx="535.6" cy="382.7" r="1.05" fill="#6a6aff"/>
<circle cx="535" cy="387.6" r="1.05" fill="#6a6aff"/>
<circle cx="536.7" cy="388.8" r="1.05" fill="#6a6aff"/>
<circle cx="535.2" cy="395" r="1.05" fill="#6a6aff"/>
<circle cx="533.9" cy="398.3" r="1.05" fill="#6a6aff"/>
<circle cx="560.4" cy="356.1" r="1.05" fill="#6a6aff"/>
<circle cx="564.1" cy="357.3" r="1.05" fill="#6a6aff"/>
<circle cx="561.9" cy="360.4" r="1.05" fill="#6a6aff"/>
<circle cx="564.5" cy="363.5" r="1.05" fill="#6a6aff"/>
<circle cx="559.9" cy="369.7" r="1.05" fill="#6a6aff"/>
<circle cx="588.6" cy="343.2" r="1.05" fill="#6a6aff"/>
<circle cx="590.6" cy="343.5" r="1.05" fill="#6a6aff"/>
<circle cx="591.8" cy="346.2" r="1.05" fill="#6a6aff"/>
<circle cx="588.6" cy="362.2" r="1.05" fill="#6a6aff"/>
<circle cx="658.3" cy="331.1" r="1.05" fill="#6a6aff"/>
<circle cx="658.6" cy="333.3" r="1.05" fill="#6a6aff"/>
<circle cx="664.4" cy="335.6" r="1.05" fill="#6a6aff"/>
<circle cx="657.8" cy="354.3" r="1.05" fill="#6a6aff"/>
<circle cx="532.1" cy="312.8" r="4.2" fill="none" stroke="#f01818" stroke-width="1.0"/>
<text x="532.1" y="315.5" font-size="7.4" text-anchor="middle" fill="#f01818" >3</text>
<text x="540.1" y="315.7" font-size="8.5" text-anchor="start" fill="#222" >Second elongation amplitude</text>
<text x="595.3" y="448.8" font-size="7.8" text-anchor="middle" fill="#151515" >UV Pulse Energy (μJ)</text>
<text x="-0.3" y="19.7" font-size="11.2" text-anchor="start" fill="#111" >(A)</text>
<text x="0.3" y="147.3" font-size="11.2" text-anchor="start" fill="#111" >(B)</text>
<text x="-0.3" y="320.4" font-size="11.2" text-anchor="start" fill="#111" >(F)</text>
<text x="480.5" y="24.1" font-size="11.2" text-anchor="start" fill="#111" >(C)</text>
<text x="480.5" y="173.2" font-size="11.2" text-anchor="start" fill="#111" >(D)</text>
<text x="480.4" y="320.3" font-size="11.2" text-anchor="start" fill="#111" >(E)</text>
<text transform="translate(6.9,63.1) rotate(-90)" x="0" y="0" font-size="7.7" text-anchor="middle" fill="#151515">ΔOPL (nm)</text>
<text transform="translate(6.9,214.4) rotate(-90)" x="0" y="0" font-size="7.7" text-anchor="middle" fill="#151515">ΔOPL (nm)</text>
<text transform="translate(6.9,373.9) rotate(-90)" x="0" y="0" font-size="7.7" text-anchor="middle" fill="#151515">ΔOPL (nm)</text>
<text transform="translate(492,80.5) rotate(-90)" x="0" y="0" font-size="7.7" text-anchor="middle" fill="#151515">ΔOPL (nm)</text>
<text transform="translate(491.4,227.4) rotate(-90)" x="0" y="0" font-size="7.7" text-anchor="middle" fill="#151515">ΔOPL (nm)</text>
<text transform="translate(491.4,374.5) rotate(-90)" x="0" y="0" font-size="7.7" text-anchor="middle" fill="#151515">ΔOPL (nm)</text>
</svg>
</body></html>
